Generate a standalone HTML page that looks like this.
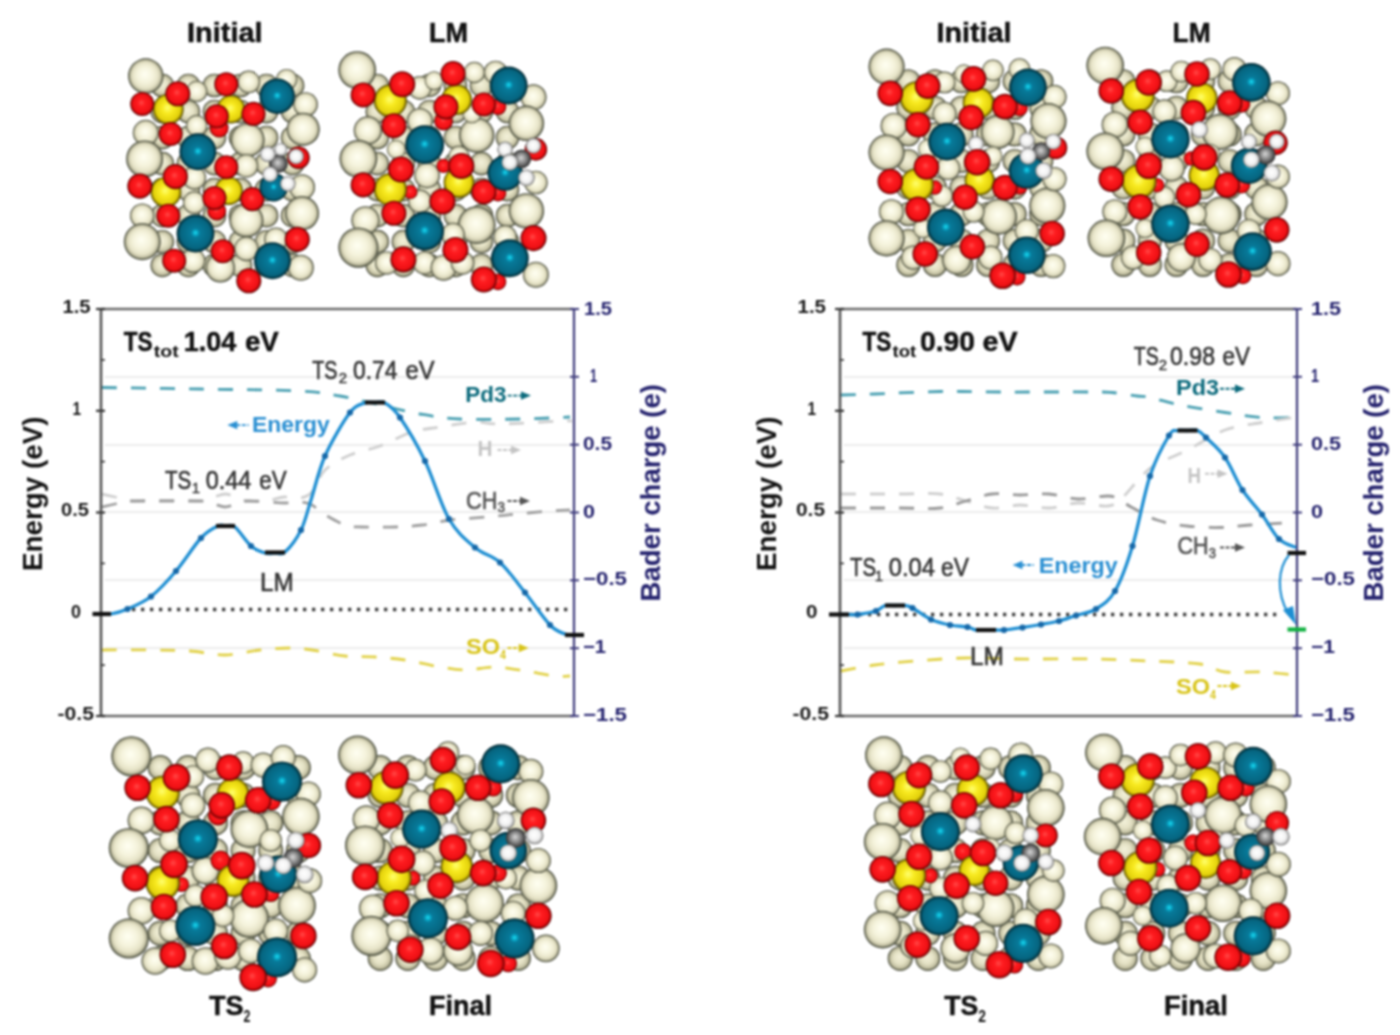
<!DOCTYPE html>
<html><head><meta charset="utf-8"><style>
html,body{margin:0;padding:0;background:#fff;width:1400px;height:1035px;overflow:hidden}
svg{display:block;filter:blur(0.8px)}
</style></head><body>
<svg width="1400" height="1035" viewBox="0 0 1400 1035" font-family='"Liberation Sans", sans-serif'>
<rect width="1400" height="1035" fill="#fff"/>
<line x1="105" y1="377" x2="570" y2="377" stroke="#e6e6e6" stroke-width="1.6"/>
<line x1="105" y1="445" x2="570" y2="445" stroke="#e6e6e6" stroke-width="1.6"/>
<line x1="105" y1="512" x2="570" y2="512" stroke="#e6e6e6" stroke-width="1.6"/>
<line x1="105" y1="580" x2="570" y2="580" stroke="#e6e6e6" stroke-width="1.6"/>
<line x1="105" y1="648" x2="570" y2="648" stroke="#e6e6e6" stroke-width="1.6"/>
<path d="M102.0,387.5 C118.3,387.8 167.0,388.4 200.0,389.0 C233.0,389.6 276.7,389.8 300.0,391.0 C323.3,392.2 326.7,393.7 340.0,396.0 C353.3,398.3 366.7,402.0 380.0,405.0 C393.3,408.0 406.7,411.7 420.0,414.0 C433.3,416.3 443.3,418.2 460.0,419.0 C476.7,419.8 501.7,419.3 520.0,419.0 C538.3,418.7 561.7,417.3 570.0,417.0" fill="none" stroke="#4aa0b2" stroke-width="2.8" stroke-dasharray="15 14" stroke-opacity="1" stroke-linecap="butt"/>
<path d="M102.0,494.0 C104.2,494.5 110.0,495.8 115.0,497.0 C120.0,498.2 117.8,500.3 132.0,501.0 C146.2,501.7 186.3,501.7 200.0,501.0 C213.7,500.3 209.8,498.2 214.0,497.0 C218.2,495.8 221.3,494.0 225.0,494.0 C228.7,494.0 232.2,495.8 236.0,497.0 C239.8,498.2 242.3,500.5 248.0,501.0 C253.7,501.5 264.0,500.7 270.0,500.0 C276.0,499.3 279.0,497.3 284.0,497.0 C289.0,496.7 295.3,498.8 300.0,498.0 C304.7,497.2 307.8,496.7 312.0,492.0 C316.2,487.3 318.7,476.2 325.0,470.0 C331.3,463.8 340.8,459.0 350.0,455.0 C359.2,451.0 369.7,449.8 380.0,446.0 C390.3,442.2 402.0,435.2 412.0,432.0 C422.0,428.8 429.5,428.7 440.0,427.0 C450.5,425.3 465.0,422.5 475.0,422.0 C485.0,421.5 485.5,424.2 500.0,424.0 C514.5,423.8 550.0,421.5 562.0,421.0 C574.0,420.5 570.3,421.0 572.0,421.0" fill="none" stroke="#cfcfcf" stroke-width="2.8" stroke-dasharray="15 14" stroke-opacity="1" stroke-linecap="butt"/>
<path d="M102.0,507.0 C104.2,506.5 110.0,505.0 115.0,504.0 C120.0,503.0 117.8,501.5 132.0,501.0 C146.2,500.5 186.3,500.5 200.0,501.0 C213.7,501.5 209.8,503.0 214.0,504.0 C218.2,505.0 221.3,507.0 225.0,507.0 C228.7,507.0 232.2,505.0 236.0,504.0 C239.8,503.0 240.0,501.2 248.0,501.0 C256.0,500.8 275.3,502.8 284.0,503.0 C292.7,503.2 295.3,501.7 300.0,502.0 C304.7,502.3 308.3,503.2 312.0,505.0 C315.7,506.8 316.5,509.7 322.0,513.0 C327.5,516.3 338.3,522.7 345.0,525.0 C351.7,527.3 353.7,526.7 362.0,527.0 C370.3,527.3 385.0,527.3 395.0,527.0 C405.0,526.7 412.8,526.2 422.0,525.0 C431.2,523.8 439.2,521.3 450.0,520.0 C460.8,518.7 475.8,518.0 487.0,517.0 C498.2,516.0 506.5,515.0 517.0,514.0 C527.5,513.0 541.2,511.7 550.0,511.0 C558.8,510.3 566.7,510.2 570.0,510.0" fill="none" stroke="#a0a0a0" stroke-width="2.8" stroke-dasharray="15 14" stroke-opacity="1" stroke-linecap="butt"/>
<path d="M102.0,650.0 C110.0,650.0 135.3,649.8 150.0,650.0 C164.7,650.2 177.5,650.2 190.0,651.0 C202.5,651.8 213.3,655.2 225.0,655.0 C236.7,654.8 249.2,651.2 260.0,650.0 C270.8,648.8 281.3,648.0 290.0,648.0 C298.7,648.0 302.8,648.7 312.0,650.0 C321.2,651.3 334.5,654.8 345.0,656.0 C355.5,657.2 365.0,656.3 375.0,657.0 C385.0,657.7 395.0,658.5 405.0,660.0 C415.0,661.5 425.0,664.3 435.0,666.0 C445.0,667.7 455.0,669.8 465.0,670.0 C475.0,670.2 485.0,666.8 495.0,667.0 C505.0,667.2 515.0,669.5 525.0,671.0 C535.0,672.5 547.5,675.2 555.0,676.0 C562.5,676.8 567.5,676.0 570.0,676.0" fill="none" stroke="#e2d24a" stroke-width="2.8" stroke-dasharray="15 14" stroke-opacity="1" stroke-linecap="butt"/>
<line x1="132" y1="609.5" x2="571" y2="609.5" stroke="#3a3a3a" stroke-width="3.3" stroke-dasharray="3.3 5.7"/>
<line x1="101" y1="309" x2="574" y2="309" stroke="#6a6a6a" stroke-width="2.4"/>
<line x1="101" y1="716" x2="574" y2="716" stroke="#6a6a6a" stroke-width="2.4"/>
<line x1="101" y1="308" x2="101" y2="717" stroke="#555" stroke-width="2.6"/>
<line x1="574" y1="308" x2="574" y2="717" stroke="#3d3a7a" stroke-width="2.2"/>
<line x1="96" y1="309.0" x2="105" y2="309.0" stroke="#333" stroke-width="2.2"/>
<line x1="101" y1="359.9" x2="105" y2="359.9" stroke="#333" stroke-width="1.6"/>
<line x1="96" y1="410.8" x2="105" y2="410.8" stroke="#333" stroke-width="2.2"/>
<line x1="101" y1="461.6" x2="105" y2="461.6" stroke="#333" stroke-width="1.6"/>
<line x1="96" y1="512.5" x2="105" y2="512.5" stroke="#333" stroke-width="2.2"/>
<line x1="101" y1="563.4" x2="105" y2="563.4" stroke="#333" stroke-width="1.6"/>
<line x1="96" y1="614.2" x2="105" y2="614.2" stroke="#333" stroke-width="2.2"/>
<line x1="101" y1="665.1" x2="105" y2="665.1" stroke="#333" stroke-width="1.6"/>
<line x1="96" y1="716.0" x2="105" y2="716.0" stroke="#333" stroke-width="2.2"/>
<line x1="570" y1="309.0" x2="579" y2="309.0" stroke="#3d3a7a" stroke-width="2"/>
<line x1="570" y1="376.8" x2="579" y2="376.8" stroke="#3d3a7a" stroke-width="2"/>
<line x1="570" y1="444.7" x2="579" y2="444.7" stroke="#3d3a7a" stroke-width="2"/>
<line x1="570" y1="512.5" x2="579" y2="512.5" stroke="#3d3a7a" stroke-width="2"/>
<line x1="570" y1="580.3" x2="579" y2="580.3" stroke="#3d3a7a" stroke-width="2"/>
<line x1="570" y1="648.2" x2="579" y2="648.2" stroke="#3d3a7a" stroke-width="2"/>
<line x1="570" y1="716.0" x2="579" y2="716.0" stroke="#3d3a7a" stroke-width="2"/>
<path d="M101.0,614.0 C102.7,614.0 106.6,614.8 111.0,614.0 C115.4,613.2 120.8,611.9 127.5,609.0 C134.2,606.1 142.9,602.8 151.0,596.5 C159.1,590.2 167.7,580.8 176.0,571.0 C184.3,561.2 194.0,545.5 201.0,538.0 C208.0,530.5 213.8,528.0 218.0,526.0 C222.2,524.0 223.2,525.8 226.0,526.0 C228.8,526.2 230.8,523.7 235.0,527.0 C239.2,530.3 246.0,541.7 251.0,546.0 C256.0,550.3 261.0,551.8 265.0,553.0 C269.0,554.2 271.7,553.2 275.0,553.0 C278.3,552.8 280.7,555.8 285.0,552.0 C289.3,548.2 296.7,538.7 301.0,530.0 C305.3,521.3 307.0,512.3 311.0,500.0 C315.0,487.7 318.5,470.6 325.0,456.0 C331.5,441.4 343.3,421.3 350.0,412.5 C356.7,403.7 360.8,404.7 365.0,403.0 C369.2,401.3 371.7,402.5 375.0,402.5 C378.3,402.5 380.8,400.5 385.0,403.0 C389.2,405.5 393.3,407.8 400.0,417.5 C406.7,427.2 416.8,444.1 425.0,461.0 C433.2,477.9 440.7,504.6 449.0,519.0 C457.3,533.4 466.5,540.2 475.0,547.5 C483.5,554.8 491.7,555.0 500.0,562.5 C508.3,570.0 516.7,582.1 525.0,592.5 C533.3,602.9 543.3,618.1 550.0,625.0 C556.7,631.9 560.8,632.3 565.0,634.0 C569.2,635.7 573.3,634.8 575.0,635.0" fill="none" stroke="#1e8ed2" stroke-width="3.3" stroke-opacity="1" stroke-linecap="butt"/>
<circle cx="127.5" cy="609" r="3.1" fill="#1668a8"/>
<circle cx="151" cy="596.5" r="3.1" fill="#1668a8"/>
<circle cx="176" cy="571" r="3.1" fill="#1668a8"/>
<circle cx="201" cy="538" r="3.1" fill="#1668a8"/>
<circle cx="251" cy="546" r="3.1" fill="#1668a8"/>
<circle cx="301" cy="530" r="3.1" fill="#1668a8"/>
<circle cx="325" cy="456" r="3.1" fill="#1668a8"/>
<circle cx="350" cy="412.5" r="3.1" fill="#1668a8"/>
<circle cx="400" cy="417.5" r="3.1" fill="#1668a8"/>
<circle cx="425" cy="461" r="3.1" fill="#1668a8"/>
<circle cx="449" cy="519" r="3.1" fill="#1668a8"/>
<circle cx="475" cy="547.5" r="3.1" fill="#1668a8"/>
<circle cx="500" cy="562.5" r="3.1" fill="#1668a8"/>
<circle cx="525" cy="592.5" r="3.1" fill="#1668a8"/>
<circle cx="550" cy="625" r="3.1" fill="#1668a8"/>
<line x1="92.5" y1="614" x2="111" y2="614" stroke="#111" stroke-width="4.2"/>
<line x1="216" y1="526" x2="235" y2="526" stroke="#111" stroke-width="4.2"/>
<line x1="265" y1="552.5" x2="285" y2="552.5" stroke="#111" stroke-width="4.2"/>
<line x1="365" y1="402.5" x2="385" y2="402.5" stroke="#111" stroke-width="4.2"/>
<line x1="565" y1="635" x2="584" y2="635" stroke="#111" stroke-width="4.2"/>
<line x1="844" y1="377" x2="1293" y2="377" stroke="#e6e6e6" stroke-width="1.6"/>
<line x1="844" y1="445" x2="1293" y2="445" stroke="#e6e6e6" stroke-width="1.6"/>
<line x1="844" y1="512" x2="1293" y2="512" stroke="#e6e6e6" stroke-width="1.6"/>
<line x1="844" y1="580" x2="1293" y2="580" stroke="#e6e6e6" stroke-width="1.6"/>
<line x1="844" y1="648" x2="1293" y2="648" stroke="#e6e6e6" stroke-width="1.6"/>
<path d="M841.0,395.0 C846.7,394.8 858.5,394.6 875.0,394.0 C891.5,393.4 919.2,391.8 940.0,391.5 C960.8,391.2 975.0,391.9 1000.0,392.0 C1025.0,392.1 1071.3,391.9 1090.0,392.0 C1108.7,392.1 1104.2,391.8 1112.0,392.5 C1119.8,393.2 1130.7,395.2 1137.0,396.0 C1143.3,396.8 1142.8,396.0 1150.0,397.5 C1157.2,399.0 1167.5,402.5 1180.0,405.0 C1192.5,407.5 1211.3,410.4 1225.0,412.5 C1238.7,414.6 1250.3,416.7 1262.0,417.5 C1273.7,418.3 1289.5,417.5 1295.0,417.5" fill="none" stroke="#4aa0b2" stroke-width="2.8" stroke-dasharray="15 14" stroke-opacity="1" stroke-linecap="butt"/>
<path d="M841.0,494.0 C850.8,494.0 883.5,494.0 900.0,494.0 C916.5,494.0 929.0,492.8 940.0,494.0 C951.0,495.2 957.3,498.7 966.0,501.0 C974.7,503.3 983.0,507.3 992.0,508.0 C1001.0,508.7 1010.5,505.0 1020.0,505.0 C1029.5,505.0 1039.3,508.3 1049.0,508.0 C1058.7,507.7 1068.2,503.3 1078.0,503.0 C1087.8,502.7 1100.7,506.8 1108.0,506.0 C1115.3,505.2 1116.7,502.7 1122.0,498.0 C1127.3,493.3 1134.5,483.5 1140.0,478.0 C1145.5,472.5 1147.1,469.7 1155.0,465.0 C1162.9,460.3 1175.8,455.8 1187.5,450.0 C1199.2,444.2 1212.6,434.6 1225.0,430.0 C1237.4,425.4 1250.5,424.6 1262.0,422.5 C1273.5,420.4 1288.7,418.3 1294.0,417.5" fill="none" stroke="#cfcfcf" stroke-width="2.8" stroke-dasharray="15 14" stroke-opacity="1" stroke-linecap="butt"/>
<path d="M841.0,508.0 C850.8,508.0 883.5,508.0 900.0,508.0 C916.5,508.0 929.0,509.2 940.0,508.0 C951.0,506.8 957.3,503.3 966.0,501.0 C974.7,498.7 983.0,495.0 992.0,494.0 C1001.0,493.0 1010.5,495.0 1020.0,495.0 C1029.5,495.0 1039.3,493.3 1049.0,494.0 C1058.7,494.7 1068.2,498.7 1078.0,499.0 C1087.8,499.3 1101.0,495.8 1108.0,496.0 C1115.0,496.2 1116.0,498.1 1120.0,500.0 C1124.0,501.9 1125.8,504.2 1132.0,507.5 C1138.2,510.8 1147.8,516.9 1157.0,520.0 C1166.2,523.1 1176.5,524.8 1187.0,526.0 C1197.5,527.2 1209.5,527.7 1220.0,527.5 C1230.5,527.3 1237.7,525.8 1250.0,525.0 C1262.3,524.2 1286.7,522.9 1294.0,522.5" fill="none" stroke="#999" stroke-width="2.8" stroke-dasharray="15 14" stroke-opacity="1" stroke-linecap="butt"/>
<path d="M841.0,671.0 C846.7,670.0 862.7,666.7 875.0,665.0 C887.3,663.3 900.0,662.2 915.0,661.0 C930.0,659.8 948.3,658.3 965.0,658.0 C981.7,657.7 994.2,658.8 1015.0,659.0 C1035.8,659.2 1067.5,658.7 1090.0,659.0 C1112.5,659.3 1131.7,660.2 1150.0,661.0 C1168.3,661.8 1187.5,662.2 1200.0,664.0 C1212.5,665.8 1214.7,670.7 1225.0,672.0 C1235.3,673.3 1250.3,671.5 1262.0,672.0 C1273.7,672.5 1289.5,674.5 1295.0,675.0" fill="none" stroke="#e2d24a" stroke-width="2.8" stroke-dasharray="15 14" stroke-opacity="1" stroke-linecap="butt"/>
<line x1="850" y1="614.5" x2="1277" y2="614.5" stroke="#3a3a3a" stroke-width="3.3" stroke-dasharray="3.3 5.7"/>
<line x1="840" y1="309" x2="1297" y2="309" stroke="#6a6a6a" stroke-width="2.4"/>
<line x1="840" y1="716" x2="1297" y2="716" stroke="#6a6a6a" stroke-width="2.4"/>
<line x1="840" y1="308" x2="840" y2="717" stroke="#555" stroke-width="2.6"/>
<line x1="1297" y1="308" x2="1297" y2="717" stroke="#3d3a7a" stroke-width="2.2"/>
<line x1="835" y1="309.0" x2="844" y2="309.0" stroke="#333" stroke-width="2.2"/>
<line x1="840" y1="359.9" x2="844" y2="359.9" stroke="#333" stroke-width="1.6"/>
<line x1="835" y1="410.8" x2="844" y2="410.8" stroke="#333" stroke-width="2.2"/>
<line x1="840" y1="461.6" x2="844" y2="461.6" stroke="#333" stroke-width="1.6"/>
<line x1="835" y1="512.5" x2="844" y2="512.5" stroke="#333" stroke-width="2.2"/>
<line x1="840" y1="563.4" x2="844" y2="563.4" stroke="#333" stroke-width="1.6"/>
<line x1="835" y1="614.2" x2="844" y2="614.2" stroke="#333" stroke-width="2.2"/>
<line x1="840" y1="665.1" x2="844" y2="665.1" stroke="#333" stroke-width="1.6"/>
<line x1="835" y1="716.0" x2="844" y2="716.0" stroke="#333" stroke-width="2.2"/>
<line x1="1293" y1="309.0" x2="1302" y2="309.0" stroke="#3d3a7a" stroke-width="2"/>
<line x1="1293" y1="376.8" x2="1302" y2="376.8" stroke="#3d3a7a" stroke-width="2"/>
<line x1="1293" y1="444.7" x2="1302" y2="444.7" stroke="#3d3a7a" stroke-width="2"/>
<line x1="1293" y1="512.5" x2="1302" y2="512.5" stroke="#3d3a7a" stroke-width="2"/>
<line x1="1293" y1="580.3" x2="1302" y2="580.3" stroke="#3d3a7a" stroke-width="2"/>
<line x1="1293" y1="648.2" x2="1302" y2="648.2" stroke="#3d3a7a" stroke-width="2"/>
<line x1="1293" y1="716.0" x2="1302" y2="716.0" stroke="#3d3a7a" stroke-width="2"/>
<path d="M840.0,614.5 C841.5,614.5 846.1,614.5 849.0,614.5 C851.9,614.5 853.0,615.1 857.5,614.5 C862.0,613.9 871.4,612.5 876.0,611.0 C880.6,609.5 881.8,606.4 885.0,605.5 C888.2,604.6 891.7,605.5 895.0,605.5 C898.3,605.5 902.1,605.1 905.0,605.5 C907.9,605.9 908.2,605.7 912.5,608.0 C916.8,610.3 924.8,616.7 931.0,619.5 C937.2,622.3 943.9,623.8 950.0,625.0 C956.1,626.2 963.2,626.2 967.5,627.0 C971.8,627.8 972.9,629.5 976.0,630.0 C979.1,630.5 982.7,630.0 986.0,630.0 C989.3,630.0 993.0,630.0 996.0,630.0 C999.0,630.0 999.6,630.4 1004.0,630.0 C1008.4,629.6 1016.3,628.4 1022.5,627.5 C1028.7,626.6 1034.9,625.6 1041.0,624.5 C1047.1,623.4 1053.2,622.5 1059.0,621.0 C1064.8,619.5 1069.8,617.5 1076.0,615.5 C1082.2,613.5 1089.5,613.1 1096.0,609.0 C1102.5,604.9 1108.9,601.5 1115.0,591.0 C1121.1,580.5 1126.7,565.2 1132.5,546.0 C1138.3,526.8 1143.9,494.4 1150.0,476.0 C1156.1,457.6 1164.4,443.1 1169.0,435.5 C1173.6,427.9 1174.4,431.3 1177.5,430.5 C1180.6,429.7 1184.2,430.5 1187.5,430.5 C1190.8,430.5 1194.4,429.3 1197.5,430.5 C1200.6,431.7 1201.4,433.0 1206.0,437.5 C1210.6,442.0 1218.9,448.8 1225.0,457.5 C1231.1,466.2 1236.3,480.5 1242.5,490.0 C1248.7,499.5 1255.9,506.3 1262.0,514.5 C1268.1,522.7 1273.3,533.5 1279.0,539.0 C1284.7,544.5 1293.2,546.1 1296.0,547.5" fill="none" stroke="#1e8ed2" stroke-width="3.3" stroke-opacity="1" stroke-linecap="butt"/>
<circle cx="857.5" cy="614.5" r="3.1" fill="#1668a8"/>
<circle cx="876" cy="611" r="3.1" fill="#1668a8"/>
<circle cx="912.5" cy="608" r="3.1" fill="#1668a8"/>
<circle cx="931" cy="619.5" r="3.1" fill="#1668a8"/>
<circle cx="950" cy="625" r="3.1" fill="#1668a8"/>
<circle cx="967.5" cy="627" r="3.1" fill="#1668a8"/>
<circle cx="1004" cy="630" r="3.1" fill="#1668a8"/>
<circle cx="1022.5" cy="627.5" r="3.1" fill="#1668a8"/>
<circle cx="1041" cy="624.5" r="3.1" fill="#1668a8"/>
<circle cx="1059" cy="621" r="3.1" fill="#1668a8"/>
<circle cx="1076" cy="615.5" r="3.1" fill="#1668a8"/>
<circle cx="1096" cy="609" r="3.1" fill="#1668a8"/>
<circle cx="1115" cy="591" r="3.1" fill="#1668a8"/>
<circle cx="1132.5" cy="546" r="3.1" fill="#1668a8"/>
<circle cx="1150" cy="476" r="3.1" fill="#1668a8"/>
<circle cx="1169" cy="435.5" r="3.1" fill="#1668a8"/>
<circle cx="1206" cy="437.5" r="3.1" fill="#1668a8"/>
<circle cx="1225" cy="457.5" r="3.1" fill="#1668a8"/>
<circle cx="1242.5" cy="490" r="3.1" fill="#1668a8"/>
<circle cx="1262" cy="514.5" r="3.1" fill="#1668a8"/>
<circle cx="1279" cy="539" r="3.1" fill="#1668a8"/>
<line x1="829" y1="614.5" x2="849" y2="614.5" stroke="#111" stroke-width="4.2"/>
<line x1="885" y1="605.5" x2="905" y2="605.5" stroke="#111" stroke-width="4.2"/>
<line x1="976" y1="630" x2="996" y2="630" stroke="#111" stroke-width="4.2"/>
<line x1="1177.5" y1="430.5" x2="1197.5" y2="430.5" stroke="#111" stroke-width="4.2"/>
<line x1="1287.5" y1="553" x2="1306" y2="553" stroke="#111" stroke-width="4.2"/>
<line x1="1287.5" y1="629.5" x2="1306" y2="629.5" stroke="#10b040" stroke-width="4.2"/>
<path d="M1289,555 C1278,568 1276,592 1288,613" fill="none" stroke="#1e8ed2" stroke-width="2.2"/>
<path d="M1283,610 L1296,625 L1293,606 Z" fill="#1e8ed2"/>
<text x="62.4" y="313.0" font-size="19" font-weight="bold" fill="#1a1a1a" textLength="28.3" lengthAdjust="spacingAndGlyphs">1.5</text>
<text x="72.5" y="414.5" font-size="19" font-weight="bold" fill="#1a1a1a" textLength="8.5" lengthAdjust="spacingAndGlyphs">1</text>
<text x="61.0" y="516.0" font-size="19" font-weight="bold" fill="#1a1a1a" textLength="28.0" lengthAdjust="spacingAndGlyphs">0.5</text>
<text x="71.0" y="618.0" font-size="19" font-weight="bold" fill="#1a1a1a" textLength="10.0" lengthAdjust="spacingAndGlyphs">0</text>
<text x="57.5" y="720.0" font-size="19" font-weight="bold" fill="#1a1a1a" textLength="36.5" lengthAdjust="spacingAndGlyphs">-0.5</text>
<text x="584.0" y="315.0" font-size="19" font-weight="bold" fill="#25236e" textLength="28.0" lengthAdjust="spacingAndGlyphs">1.5</text>
<text x="590.0" y="382.0" font-size="19" font-weight="bold" fill="#25236e" textLength="7.0" lengthAdjust="spacingAndGlyphs">1</text>
<text x="583.0" y="450.0" font-size="19" font-weight="bold" fill="#25236e" textLength="29.0" lengthAdjust="spacingAndGlyphs">0.5</text>
<text x="583.0" y="518.0" font-size="19" font-weight="bold" fill="#25236e" textLength="12.0" lengthAdjust="spacingAndGlyphs">0</text>
<text x="583.0" y="585.0" font-size="19" font-weight="bold" fill="#25236e" textLength="44.0" lengthAdjust="spacingAndGlyphs">−0.5</text>
<text x="583.0" y="653.0" font-size="19" font-weight="bold" fill="#25236e" textLength="23.0" lengthAdjust="spacingAndGlyphs">−1</text>
<text x="583.0" y="721.0" font-size="19" font-weight="bold" fill="#25236e" textLength="44.0" lengthAdjust="spacingAndGlyphs">−1.5</text>
<text x="797.5" y="313.0" font-size="19" font-weight="bold" fill="#1a1a1a" textLength="28.5" lengthAdjust="spacingAndGlyphs">1.5</text>
<text x="807.5" y="414.5" font-size="19" font-weight="bold" fill="#1a1a1a" textLength="8.5" lengthAdjust="spacingAndGlyphs">1</text>
<text x="796.0" y="516.0" font-size="19" font-weight="bold" fill="#1a1a1a" textLength="29.0" lengthAdjust="spacingAndGlyphs">0.5</text>
<text x="806.0" y="618.0" font-size="19" font-weight="bold" fill="#1a1a1a" textLength="11.5" lengthAdjust="spacingAndGlyphs">0</text>
<text x="792.5" y="720.0" font-size="19" font-weight="bold" fill="#1a1a1a" textLength="36.5" lengthAdjust="spacingAndGlyphs">-0.5</text>
<text x="1311.0" y="315.0" font-size="19" font-weight="bold" fill="#25236e" textLength="30.0" lengthAdjust="spacingAndGlyphs">1.5</text>
<text x="1311.0" y="382.0" font-size="19" font-weight="bold" fill="#25236e" textLength="8.0" lengthAdjust="spacingAndGlyphs">1</text>
<text x="1311.0" y="450.0" font-size="19" font-weight="bold" fill="#25236e" textLength="30.0" lengthAdjust="spacingAndGlyphs">0.5</text>
<text x="1311.0" y="518.0" font-size="19" font-weight="bold" fill="#25236e" textLength="12.0" lengthAdjust="spacingAndGlyphs">0</text>
<text x="1311.0" y="585.0" font-size="19" font-weight="bold" fill="#25236e" textLength="44.0" lengthAdjust="spacingAndGlyphs">−0.5</text>
<text x="1311.0" y="653.0" font-size="19" font-weight="bold" fill="#25236e" textLength="24.0" lengthAdjust="spacingAndGlyphs">−1</text>
<text x="1311.0" y="721.0" font-size="19" font-weight="bold" fill="#25236e" textLength="44.0" lengthAdjust="spacingAndGlyphs">−1.5</text>
<text transform="translate(41.5,571.0) rotate(-90)" x="0" y="0" font-size="27" font-weight="bold" fill="#111" textLength="154.5" lengthAdjust="spacingAndGlyphs">Energy (eV)</text>
<text transform="translate(776.0,571.0) rotate(-90)" x="0" y="0" font-size="27" font-weight="bold" fill="#111" textLength="154.5" lengthAdjust="spacingAndGlyphs">Energy (eV)</text>
<text transform="translate(659.5,601.5) rotate(-90)" x="0" y="0" font-size="27" font-weight="bold" fill="#25236e" textLength="217.5" lengthAdjust="spacingAndGlyphs">Bader charge (e)</text>
<text transform="translate(1383.0,601.5) rotate(-90)" x="0" y="0" font-size="27" font-weight="bold" fill="#25236e" textLength="217.5" lengthAdjust="spacingAndGlyphs">Bader charge (e)</text>
<text x="123.8" y="351.0" font-size="28" font-weight="bold" fill="#111" textLength="28.8" lengthAdjust="spacingAndGlyphs" stroke="#111" stroke-width="0.5">TS</text>
<text x="153.8" y="356.5" font-size="17" font-weight="bold" fill="#111" textLength="25.0" lengthAdjust="spacingAndGlyphs">tot</text>
<text x="183.8" y="351.0" font-size="28" font-weight="bold" fill="#111" textLength="52.5" lengthAdjust="spacingAndGlyphs" stroke="#111" stroke-width="0.5">1.04</text>
<text x="245.0" y="351.0" font-size="28" font-weight="bold" fill="#111" textLength="33.8" lengthAdjust="spacingAndGlyphs" stroke="#111" stroke-width="0.5">eV</text>
<text x="312.3" y="378.9" font-size="26" font-weight="normal" fill="#333" textLength="25.2" lengthAdjust="spacingAndGlyphs" stroke="#333" stroke-width="0.6">TS</text>
<text x="342.8" y="383.2" font-size="15" font-weight="normal" fill="#333" text-anchor="middle" stroke="#333" stroke-width="0.4">2</text>
<text x="353.0" y="378.9" font-size="26" font-weight="normal" fill="#333" textLength="44.5" lengthAdjust="spacingAndGlyphs" stroke="#333" stroke-width="0.6">0.74</text>
<text x="405.5" y="378.9" font-size="26" font-weight="normal" fill="#333" textLength="29.0" lengthAdjust="spacingAndGlyphs" stroke="#333" stroke-width="0.6">eV</text>
<text x="165.0" y="488.8" font-size="26" font-weight="normal" fill="#333" textLength="26.3" lengthAdjust="spacingAndGlyphs" stroke="#333" stroke-width="0.6">TS</text>
<text x="195.8" y="492.5" font-size="15" font-weight="normal" fill="#333" text-anchor="middle" stroke="#333" stroke-width="0.4">1</text>
<text x="205.7" y="488.8" font-size="26" font-weight="normal" fill="#333" textLength="45.6" lengthAdjust="spacingAndGlyphs" stroke="#333" stroke-width="0.6">0.44</text>
<text x="259.3" y="488.8" font-size="26" font-weight="normal" fill="#333" textLength="27.3" lengthAdjust="spacingAndGlyphs" stroke="#333" stroke-width="0.6">eV</text>
<text x="260.0" y="591.2" font-size="26" font-weight="normal" fill="#333" textLength="33.8" lengthAdjust="spacingAndGlyphs" stroke="#333" stroke-width="0.6">LM</text>
<text x="862.5" y="351.0" font-size="28" font-weight="bold" fill="#111" textLength="28.8" lengthAdjust="spacingAndGlyphs" stroke="#111" stroke-width="0.5">TS</text>
<text x="892.5" y="356.5" font-size="17" font-weight="bold" fill="#111" textLength="23.8" lengthAdjust="spacingAndGlyphs">tot</text>
<text x="920.0" y="351.0" font-size="28" font-weight="bold" fill="#111" textLength="55.0" lengthAdjust="spacingAndGlyphs" stroke="#111" stroke-width="0.5">0.90</text>
<text x="982.5" y="351.0" font-size="28" font-weight="bold" fill="#111" textLength="35.0" lengthAdjust="spacingAndGlyphs" stroke="#111" stroke-width="0.5">eV</text>
<text x="1133.8" y="365.0" font-size="26" font-weight="normal" fill="#333" textLength="25.0" lengthAdjust="spacingAndGlyphs" stroke="#333" stroke-width="0.6">TS</text>
<text x="1163.0" y="369.5" font-size="15" font-weight="normal" fill="#333" text-anchor="middle" stroke="#333" stroke-width="0.4">2</text>
<text x="1170.0" y="365.0" font-size="26" font-weight="normal" fill="#333" textLength="45.0" lengthAdjust="spacingAndGlyphs" stroke="#333" stroke-width="0.6">0.98</text>
<text x="1222.5" y="365.0" font-size="26" font-weight="normal" fill="#333" textLength="27.5" lengthAdjust="spacingAndGlyphs" stroke="#333" stroke-width="0.6">eV</text>
<text x="850.0" y="576.0" font-size="26" font-weight="normal" fill="#333" textLength="26.0" lengthAdjust="spacingAndGlyphs" stroke="#333" stroke-width="0.6">TS</text>
<text x="879.0" y="580.5" font-size="15" font-weight="normal" fill="#333" text-anchor="middle" stroke="#333" stroke-width="0.4">1</text>
<text x="888.8" y="576.0" font-size="26" font-weight="normal" fill="#333" textLength="46.2" lengthAdjust="spacingAndGlyphs" stroke="#333" stroke-width="0.6">0.04</text>
<text x="941.0" y="576.0" font-size="26" font-weight="normal" fill="#333" textLength="27.8" lengthAdjust="spacingAndGlyphs" stroke="#333" stroke-width="0.6">eV</text>
<text x="970.0" y="665.0" font-size="26" font-weight="normal" fill="#333" textLength="34.0" lengthAdjust="spacingAndGlyphs" stroke="#333" stroke-width="0.6">LM</text>
<text x="465.3" y="402.3" font-size="22" font-weight="bold" fill="#0b6a7c" textLength="41.1" lengthAdjust="spacingAndGlyphs">Pd3</text>
<line x1="507.7" y1="395.6" x2="523" y2="395.6" stroke="#0b6a7c" stroke-width="1.8" stroke-dasharray="4 1.5"/>
<path d="M521,391.40000000000003 L531,395.6 L521,399.8 Z" fill="#0b6a7c"/>
<text x="477.5" y="456.0" font-size="22" font-weight="bold" fill="#c4c4c4" textLength="15.0" lengthAdjust="spacingAndGlyphs">H</text>
<line x1="497.5" y1="450" x2="513" y2="450" stroke="#c4c4c4" stroke-width="1.8" stroke-dasharray="4 1.5"/>
<path d="M511,445.8 L521,450 L511,454.2 Z" fill="#c4c4c4"/>
<text x="466.0" y="508.8" font-size="23" font-weight="normal" fill="#555" textLength="31.5" lengthAdjust="spacingAndGlyphs" stroke="#555" stroke-width="0.6">CH</text>
<text x="497.5" y="512.0" font-size="14" font-weight="normal" fill="#555" textLength="7.5" lengthAdjust="spacingAndGlyphs" stroke="#555" stroke-width="0.6">3</text>
<line x1="507.5" y1="501" x2="522" y2="501" stroke="#555" stroke-width="1.8" stroke-dasharray="4 1.5"/>
<path d="M520,496.8 L530,501 L520,505.2 Z" fill="#555"/>
<text x="466.0" y="653.8" font-size="22" font-weight="bold" fill="#d8c418" textLength="34.0" lengthAdjust="spacingAndGlyphs">SO</text>
<text x="500.0" y="658.5" font-size="13" font-weight="bold" fill="#d8c418" textLength="6.0" lengthAdjust="spacingAndGlyphs">4</text>
<line x1="507.5" y1="648" x2="520.75" y2="648" stroke="#d8c418" stroke-width="1.8" stroke-dasharray="4 1.5"/>
<path d="M518.75,643.8 L528.75,648 L518.75,652.2 Z" fill="#d8c418"/>
<text x="1176.0" y="395.0" font-size="22" font-weight="bold" fill="#0b6a7c" textLength="43.0" lengthAdjust="spacingAndGlyphs">Pd3</text>
<line x1="1220" y1="388.75" x2="1237" y2="388.75" stroke="#0b6a7c" stroke-width="1.8" stroke-dasharray="4 1.5"/>
<path d="M1235,384.55 L1245,388.75 L1235,392.95 Z" fill="#0b6a7c"/>
<text x="1187.5" y="482.5" font-size="22" font-weight="bold" fill="#c4c4c4" textLength="13.5" lengthAdjust="spacingAndGlyphs">H</text>
<line x1="1205" y1="473.75" x2="1219.5" y2="473.75" stroke="#c4c4c4" stroke-width="1.8" stroke-dasharray="4 1.5"/>
<path d="M1217.5,469.55 L1227.5,473.75 L1217.5,477.95 Z" fill="#c4c4c4"/>
<text x="1177.5" y="553.8" font-size="23" font-weight="normal" fill="#555" textLength="31.2" lengthAdjust="spacingAndGlyphs" stroke="#555" stroke-width="0.6">CH</text>
<text x="1208.8" y="557.5" font-size="14" font-weight="normal" fill="#555" textLength="7.2" lengthAdjust="spacingAndGlyphs" stroke="#555" stroke-width="0.6">3</text>
<line x1="1220" y1="547.5" x2="1237" y2="547.5" stroke="#555" stroke-width="1.8" stroke-dasharray="4 1.5"/>
<path d="M1235,543.3 L1245,547.5 L1235,551.7 Z" fill="#555"/>
<text x="1176.0" y="693.8" font-size="22" font-weight="bold" fill="#d8c418" textLength="34.0" lengthAdjust="spacingAndGlyphs">SO</text>
<text x="1210.0" y="698.5" font-size="13" font-weight="bold" fill="#d8c418" textLength="6.0" lengthAdjust="spacingAndGlyphs">4</text>
<line x1="1217.5" y1="686" x2="1233" y2="686" stroke="#d8c418" stroke-width="1.8" stroke-dasharray="4 1.5"/>
<path d="M1231,681.8 L1241,686 L1231,690.2 Z" fill="#d8c418"/>
<path d="M227.3,425.1 L237.3,420.90000000000003 L237.3,429.3 Z" fill="#2a8fd2"/>
<line x1="236.3" y1="425.1" x2="248.7" y2="425.1" stroke="#2a8fd2" stroke-width="1.8" stroke-dasharray="4 1.5"/>
<text x="252.1" y="431.6" font-size="22" font-weight="bold" fill="#2a8fd2" textLength="77.6" lengthAdjust="spacingAndGlyphs">Energy</text>
<path d="M1012.5,565 L1022.5,560.8 L1022.5,569.2 Z" fill="#2a8fd2"/>
<line x1="1021.5" y1="565" x2="1033.75" y2="565" stroke="#2a8fd2" stroke-width="1.8" stroke-dasharray="4 1.5"/>
<text x="1038.8" y="572.5" font-size="22" font-weight="bold" fill="#2a8fd2" textLength="78.8" lengthAdjust="spacingAndGlyphs">Energy</text>
<text x="187.0" y="42.0" font-size="28" font-weight="bold" fill="#111" textLength="75.6" lengthAdjust="spacingAndGlyphs" stroke="#111" stroke-width="0.5">Initial</text>
<text x="429.0" y="42.0" font-size="28" font-weight="bold" fill="#111" textLength="39.0" lengthAdjust="spacingAndGlyphs" stroke="#111" stroke-width="0.5">LM</text>
<text x="936.5" y="42.0" font-size="28" font-weight="bold" fill="#111" textLength="74.9" lengthAdjust="spacingAndGlyphs" stroke="#111" stroke-width="0.5">Initial</text>
<text x="1172.6" y="42.0" font-size="28" font-weight="bold" fill="#111" textLength="38.1" lengthAdjust="spacingAndGlyphs" stroke="#111" stroke-width="0.5">LM</text>
<text x="209.0" y="1015.0" font-size="28" font-weight="bold" fill="#111" textLength="34.6" lengthAdjust="spacingAndGlyphs" stroke="#111" stroke-width="0.5">TS</text>
<text x="243.5" y="1022.0" font-size="17" font-weight="bold" fill="#111" textLength="6.9" lengthAdjust="spacingAndGlyphs">2</text>
<text x="429.0" y="1015.0" font-size="28" font-weight="bold" fill="#111" textLength="63.0" lengthAdjust="spacingAndGlyphs" stroke="#111" stroke-width="0.5">Final</text>
<text x="944.3" y="1015.0" font-size="28" font-weight="bold" fill="#111" textLength="34.0" lengthAdjust="spacingAndGlyphs" stroke="#111" stroke-width="0.5">TS</text>
<text x="978.3" y="1022.0" font-size="17" font-weight="bold" fill="#111" textLength="7.7" lengthAdjust="spacingAndGlyphs">2</text>
<text x="1164.0" y="1015.0" font-size="28" font-weight="bold" fill="#111" textLength="64.0" lengthAdjust="spacingAndGlyphs" stroke="#111" stroke-width="0.5">Final</text>
<defs>
<radialGradient id="gc" cx="50%" cy="50%" r="50%" fx="47%" fy="44%">
<stop offset="0" stop-color="#fffff2"/><stop offset="0.45" stop-color="#f5f3dc"/><stop offset="0.72" stop-color="#e6e3c7"/><stop offset="0.86" stop-color="#c3c0a4"/><stop offset="0.95" stop-color="#6c6e5a"/><stop offset="1" stop-color="#2e3326"/></radialGradient>
<radialGradient id="gc2" cx="50%" cy="50%" r="50%" fx="47%" fy="44%">
<stop offset="0" stop-color="#f3f1da"/><stop offset="0.5" stop-color="#e4e1c4"/><stop offset="0.8" stop-color="#c2bfa1"/><stop offset="0.94" stop-color="#6a6b56"/><stop offset="1" stop-color="#2e3326"/></radialGradient>
<radialGradient id="gr" cx="50%" cy="50%" r="50%" fx="46%" fy="44%">
<stop offset="0" stop-color="#ff4a48"/><stop offset="0.3" stop-color="#ff1c20"/><stop offset="0.78" stop-color="#ee1014"/><stop offset="0.92" stop-color="#a00406"/><stop offset="1" stop-color="#3a0000"/></radialGradient>
<radialGradient id="gy" cx="50%" cy="50%" r="50%" fx="47%" fy="45%">
<stop offset="0" stop-color="#ffff70"/><stop offset="0.35" stop-color="#f8ea20"/><stop offset="0.8" stop-color="#e2d00a"/><stop offset="0.93" stop-color="#8c7c00"/><stop offset="1" stop-color="#3a3200"/></radialGradient>
<radialGradient id="gt" cx="50%" cy="50%" r="50%" fx="50%" fy="48%">
<stop offset="0" stop-color="#22e4f4"/><stop offset="0.1" stop-color="#0ab0d0"/><stop offset="0.24" stop-color="#077a9a"/><stop offset="0.8" stop-color="#066580"/><stop offset="0.93" stop-color="#034050"/><stop offset="1" stop-color="#011c24"/></radialGradient>
<radialGradient id="gw" cx="50%" cy="50%" r="50%" fx="46%" fy="44%">
<stop offset="0" stop-color="#ffffff"/><stop offset="0.6" stop-color="#f2f2f2"/><stop offset="0.88" stop-color="#b8b8b8"/><stop offset="1" stop-color="#505050"/></radialGradient>
<radialGradient id="gg" cx="50%" cy="50%" r="50%" fx="46%" fy="44%">
<stop offset="0" stop-color="#d8d8d8"/><stop offset="0.5" stop-color="#8a8a8a"/><stop offset="1" stop-color="#303030"/></radialGradient>
</defs>
<g transform="translate(115,50) scale(0.23674)">
<circle cx="200" cy="150" r="50" fill="url(#gc2)"/>
<circle cx="310" cy="150" r="50" fill="url(#gc2)"/>
<circle cx="420" cy="150" r="50" fill="url(#gc2)"/>
<circle cx="530" cy="150" r="50" fill="url(#gc2)"/>
<circle cx="640" cy="150" r="50" fill="url(#gc2)"/>
<circle cx="750" cy="150" r="50" fill="url(#gc2)"/>
<circle cx="200" cy="260" r="50" fill="url(#gc2)"/>
<circle cx="310" cy="260" r="50" fill="url(#gc2)"/>
<circle cx="420" cy="260" r="50" fill="url(#gc2)"/>
<circle cx="530" cy="260" r="50" fill="url(#gc2)"/>
<circle cx="640" cy="260" r="50" fill="url(#gc2)"/>
<circle cx="750" cy="260" r="50" fill="url(#gc2)"/>
<circle cx="200" cy="370" r="50" fill="url(#gc2)"/>
<circle cx="310" cy="370" r="50" fill="url(#gc2)"/>
<circle cx="420" cy="370" r="50" fill="url(#gc2)"/>
<circle cx="530" cy="370" r="50" fill="url(#gc2)"/>
<circle cx="640" cy="370" r="50" fill="url(#gc2)"/>
<circle cx="750" cy="370" r="50" fill="url(#gc2)"/>
<circle cx="200" cy="480" r="50" fill="url(#gc2)"/>
<circle cx="310" cy="480" r="50" fill="url(#gc2)"/>
<circle cx="420" cy="480" r="50" fill="url(#gc2)"/>
<circle cx="530" cy="480" r="50" fill="url(#gc2)"/>
<circle cx="640" cy="480" r="50" fill="url(#gc2)"/>
<circle cx="750" cy="480" r="50" fill="url(#gc2)"/>
<circle cx="200" cy="590" r="50" fill="url(#gc2)"/>
<circle cx="310" cy="590" r="50" fill="url(#gc2)"/>
<circle cx="420" cy="590" r="50" fill="url(#gc2)"/>
<circle cx="530" cy="590" r="50" fill="url(#gc2)"/>
<circle cx="640" cy="590" r="50" fill="url(#gc2)"/>
<circle cx="750" cy="590" r="50" fill="url(#gc2)"/>
<circle cx="200" cy="700" r="50" fill="url(#gc2)"/>
<circle cx="310" cy="700" r="50" fill="url(#gc2)"/>
<circle cx="420" cy="700" r="50" fill="url(#gc2)"/>
<circle cx="530" cy="700" r="50" fill="url(#gc2)"/>
<circle cx="640" cy="700" r="50" fill="url(#gc2)"/>
<circle cx="750" cy="700" r="50" fill="url(#gc2)"/>
<circle cx="200" cy="810" r="50" fill="url(#gc2)"/>
<circle cx="310" cy="810" r="50" fill="url(#gc2)"/>
<circle cx="420" cy="810" r="50" fill="url(#gc2)"/>
<circle cx="530" cy="810" r="50" fill="url(#gc2)"/>
<circle cx="640" cy="810" r="50" fill="url(#gc2)"/>
<circle cx="750" cy="810" r="50" fill="url(#gc2)"/>
<circle cx="200" cy="910" r="50" fill="url(#gc2)"/>
<circle cx="310" cy="910" r="50" fill="url(#gc2)"/>
<circle cx="420" cy="910" r="50" fill="url(#gc2)"/>
<circle cx="530" cy="910" r="50" fill="url(#gc2)"/>
<circle cx="640" cy="910" r="50" fill="url(#gc2)"/>
<circle cx="750" cy="910" r="50" fill="url(#gc2)"/>
<circle cx="130" cy="110" r="75" fill="url(#gc)"/>
<circle cx="345" cy="175" r="45" fill="url(#gc)"/>
<circle cx="565" cy="135" r="48" fill="url(#gc)"/>
<circle cx="725" cy="125" r="45" fill="url(#gc)"/>
<circle cx="805" cy="230" r="52" fill="url(#gc)"/>
<circle cx="795" cy="335" r="70" fill="url(#gc)"/>
<circle cx="130" cy="350" r="55" fill="url(#gc)"/>
<circle cx="345" cy="320" r="45" fill="url(#gc)"/>
<circle cx="125" cy="460" r="78" fill="url(#gc)"/>
<circle cx="560" cy="380" r="72" fill="url(#gc)"/>
<circle cx="555" cy="490" r="50" fill="url(#gc)"/>
<circle cx="335" cy="540" r="50" fill="url(#gc)"/>
<circle cx="790" cy="580" r="55" fill="url(#gc)"/>
<circle cx="115" cy="700" r="52" fill="url(#gc)"/>
<circle cx="335" cy="645" r="48" fill="url(#gc)"/>
<circle cx="790" cy="690" r="72" fill="url(#gc)"/>
<circle cx="115" cy="810" r="78" fill="url(#gc)"/>
<circle cx="555" cy="720" r="72" fill="url(#gc)"/>
<circle cx="555" cy="840" r="52" fill="url(#gc)"/>
<circle cx="680" cy="800" r="50" fill="url(#gc)"/>
<circle cx="330" cy="890" r="52" fill="url(#gc)"/>
<circle cx="445" cy="920" r="62" fill="url(#gc)"/>
<circle cx="785" cy="920" r="55" fill="url(#gc)"/>
<circle cx="440" cy="330" r="40" fill="url(#gr)"/>
<circle cx="430" cy="680" r="40" fill="url(#gr)"/>
<circle cx="225" cy="250" r="65" fill="url(#gy)"/>
<circle cx="490" cy="250" r="60" fill="url(#gy)"/>
<circle cx="215" cy="600" r="65" fill="url(#gy)"/>
<circle cx="480" cy="595" r="60" fill="url(#gy)"/>
<circle cx="115" cy="228" r="50.88" fill="url(#gr)"/>
<circle cx="265" cy="185" r="53" fill="url(#gr)"/>
<circle cx="235" cy="355" r="50.88" fill="url(#gr)"/>
<circle cx="470" cy="145" r="50.88" fill="url(#gr)"/>
<circle cx="430" cy="280" r="50.88" fill="url(#gr)"/>
<circle cx="585" cy="270" r="50.88" fill="url(#gr)"/>
<circle cx="685" cy="195" r="75" fill="url(#gt)"/>
<circle cx="350" cy="430" r="78" fill="url(#gt)"/>
<circle cx="470" cy="495" r="50.88" fill="url(#gr)"/>
<circle cx="255" cy="535" r="53" fill="url(#gr)"/>
<circle cx="105" cy="575" r="53" fill="url(#gr)"/>
<circle cx="225" cy="700" r="50.88" fill="url(#gr)"/>
<circle cx="420" cy="625" r="50.88" fill="url(#gr)"/>
<circle cx="580" cy="630" r="50.88" fill="url(#gr)"/>
<circle cx="670" cy="580" r="60" fill="url(#gt)"/>
<circle cx="775" cy="455" r="47.7" fill="url(#gr)"/>
<circle cx="690" cy="480" r="40" fill="url(#gg)"/>
<circle cx="645" cy="440" r="33" fill="url(#gw)"/>
<circle cx="700" cy="420" r="27.5" fill="url(#gw)"/>
<circle cx="765" cy="450" r="33" fill="url(#gw)"/>
<circle cx="655" cy="525" r="33" fill="url(#gw)"/>
<circle cx="730" cy="565" r="33" fill="url(#gw)"/>
<circle cx="340" cy="775" r="80" fill="url(#gt)"/>
<circle cx="665" cy="890" r="78" fill="url(#gt)"/>
<circle cx="455" cy="850" r="50.88" fill="url(#gr)"/>
<circle cx="250" cy="890" r="50.88" fill="url(#gr)"/>
<circle cx="770" cy="800" r="53" fill="url(#gr)"/>
<circle cx="565" cy="975" r="53" fill="url(#gr)"/>
</g>
<g transform="translate(330,50) scale(0.23663)">
<circle cx="200" cy="150" r="50" fill="url(#gc2)"/>
<circle cx="310" cy="150" r="50" fill="url(#gc2)"/>
<circle cx="420" cy="150" r="50" fill="url(#gc2)"/>
<circle cx="530" cy="150" r="50" fill="url(#gc2)"/>
<circle cx="640" cy="150" r="50" fill="url(#gc2)"/>
<circle cx="750" cy="150" r="50" fill="url(#gc2)"/>
<circle cx="200" cy="260" r="50" fill="url(#gc2)"/>
<circle cx="310" cy="260" r="50" fill="url(#gc2)"/>
<circle cx="420" cy="260" r="50" fill="url(#gc2)"/>
<circle cx="530" cy="260" r="50" fill="url(#gc2)"/>
<circle cx="640" cy="260" r="50" fill="url(#gc2)"/>
<circle cx="750" cy="260" r="50" fill="url(#gc2)"/>
<circle cx="200" cy="370" r="50" fill="url(#gc2)"/>
<circle cx="310" cy="370" r="50" fill="url(#gc2)"/>
<circle cx="420" cy="370" r="50" fill="url(#gc2)"/>
<circle cx="530" cy="370" r="50" fill="url(#gc2)"/>
<circle cx="640" cy="370" r="50" fill="url(#gc2)"/>
<circle cx="750" cy="370" r="50" fill="url(#gc2)"/>
<circle cx="200" cy="480" r="50" fill="url(#gc2)"/>
<circle cx="310" cy="480" r="50" fill="url(#gc2)"/>
<circle cx="420" cy="480" r="50" fill="url(#gc2)"/>
<circle cx="530" cy="480" r="50" fill="url(#gc2)"/>
<circle cx="640" cy="480" r="50" fill="url(#gc2)"/>
<circle cx="750" cy="480" r="50" fill="url(#gc2)"/>
<circle cx="200" cy="590" r="50" fill="url(#gc2)"/>
<circle cx="310" cy="590" r="50" fill="url(#gc2)"/>
<circle cx="420" cy="590" r="50" fill="url(#gc2)"/>
<circle cx="530" cy="590" r="50" fill="url(#gc2)"/>
<circle cx="640" cy="590" r="50" fill="url(#gc2)"/>
<circle cx="750" cy="590" r="50" fill="url(#gc2)"/>
<circle cx="200" cy="700" r="50" fill="url(#gc2)"/>
<circle cx="310" cy="700" r="50" fill="url(#gc2)"/>
<circle cx="420" cy="700" r="50" fill="url(#gc2)"/>
<circle cx="530" cy="700" r="50" fill="url(#gc2)"/>
<circle cx="640" cy="700" r="50" fill="url(#gc2)"/>
<circle cx="750" cy="700" r="50" fill="url(#gc2)"/>
<circle cx="200" cy="810" r="50" fill="url(#gc2)"/>
<circle cx="310" cy="810" r="50" fill="url(#gc2)"/>
<circle cx="420" cy="810" r="50" fill="url(#gc2)"/>
<circle cx="530" cy="810" r="50" fill="url(#gc2)"/>
<circle cx="640" cy="810" r="50" fill="url(#gc2)"/>
<circle cx="750" cy="810" r="50" fill="url(#gc2)"/>
<circle cx="200" cy="910" r="50" fill="url(#gc2)"/>
<circle cx="310" cy="910" r="50" fill="url(#gc2)"/>
<circle cx="420" cy="910" r="50" fill="url(#gc2)"/>
<circle cx="530" cy="910" r="50" fill="url(#gc2)"/>
<circle cx="640" cy="910" r="50" fill="url(#gc2)"/>
<circle cx="750" cy="910" r="50" fill="url(#gc2)"/>
<circle cx="115" cy="85" r="80" fill="url(#gc)"/>
<circle cx="380" cy="160" r="50" fill="url(#gc)"/>
<circle cx="440" cy="130" r="40" fill="url(#gc)"/>
<circle cx="610" cy="95" r="45" fill="url(#gc)"/>
<circle cx="700" cy="95" r="50" fill="url(#gc)"/>
<circle cx="860" cy="200" r="55" fill="url(#gc)"/>
<circle cx="830" cy="310" r="75" fill="url(#gc)"/>
<circle cx="160" cy="340" r="60" fill="url(#gc)"/>
<circle cx="380" cy="300" r="55" fill="url(#gc)"/>
<circle cx="620" cy="360" r="75" fill="url(#gc)"/>
<circle cx="120" cy="460" r="80" fill="url(#gc)"/>
<circle cx="410" cy="530" r="55" fill="url(#gc)"/>
<circle cx="545" cy="450" r="45" fill="url(#gc)"/>
<circle cx="150" cy="720" r="60" fill="url(#gc)"/>
<circle cx="380" cy="640" r="50" fill="url(#gc)"/>
<circle cx="620" cy="740" r="80" fill="url(#gc)"/>
<circle cx="830" cy="680" r="75" fill="url(#gc)"/>
<circle cx="120" cy="835" r="85" fill="url(#gc)"/>
<circle cx="870" cy="560" r="50" fill="url(#gc)"/>
<circle cx="240" cy="900" r="50" fill="url(#gc)"/>
<circle cx="400" cy="900" r="50" fill="url(#gc)"/>
<circle cx="480" cy="920" r="55" fill="url(#gc)"/>
<circle cx="560" cy="900" r="50" fill="url(#gc)"/>
<circle cx="740" cy="790" r="50" fill="url(#gc)"/>
<circle cx="870" cy="950" r="55" fill="url(#gc)"/>
<circle cx="600" cy="270" r="40" fill="url(#gc)"/>
<circle cx="280" cy="420" r="40" fill="url(#gc)"/>
<circle cx="520" cy="780" r="50" fill="url(#gc)"/>
<circle cx="480" cy="300" r="40" fill="url(#gr)"/>
<circle cx="710" cy="240" r="35" fill="url(#gr)"/>
<circle cx="340" cy="600" r="30" fill="url(#gr)"/>
<circle cx="480" cy="490" r="30" fill="url(#gr)"/>
<circle cx="710" cy="605" r="35" fill="url(#gr)"/>
<circle cx="710" cy="980" r="35" fill="url(#gr)"/>
<circle cx="255" cy="215" r="70" fill="url(#gy)"/>
<circle cx="535" cy="210" r="65" fill="url(#gy)"/>
<circle cx="255" cy="590" r="70" fill="url(#gy)"/>
<circle cx="545" cy="560" r="65" fill="url(#gy)"/>
<circle cx="140" cy="190" r="53" fill="url(#gr)"/>
<circle cx="305" cy="145" r="55.12" fill="url(#gr)"/>
<circle cx="270" cy="320" r="53" fill="url(#gr)"/>
<circle cx="520" cy="100" r="53" fill="url(#gr)"/>
<circle cx="490" cy="240" r="53" fill="url(#gr)"/>
<circle cx="650" cy="230" r="50.88" fill="url(#gr)"/>
<circle cx="755" cy="150" r="80" fill="url(#gt)"/>
<circle cx="400" cy="400" r="82" fill="url(#gt)"/>
<circle cx="300" cy="505" r="55.12" fill="url(#gr)"/>
<circle cx="140" cy="570" r="53" fill="url(#gr)"/>
<circle cx="270" cy="690" r="53" fill="url(#gr)"/>
<circle cx="555" cy="490" r="55.12" fill="url(#gr)"/>
<circle cx="475" cy="640" r="55.12" fill="url(#gr)"/>
<circle cx="650" cy="600" r="53" fill="url(#gr)"/>
<circle cx="870" cy="420" r="47.7" fill="url(#gr)"/>
<circle cx="740" cy="520" r="75" fill="url(#gt)"/>
<circle cx="810" cy="460" r="40" fill="url(#gg)"/>
<circle cx="740" cy="420" r="33" fill="url(#gw)"/>
<circle cx="860" cy="405" r="33" fill="url(#gw)"/>
<circle cx="760" cy="475" r="35.2" fill="url(#gw)"/>
<circle cx="830" cy="540" r="35.2" fill="url(#gw)"/>
<circle cx="400" cy="765" r="82" fill="url(#gt)"/>
<circle cx="760" cy="880" r="80" fill="url(#gt)"/>
<circle cx="530" cy="845" r="55.12" fill="url(#gr)"/>
<circle cx="310" cy="885" r="55.12" fill="url(#gr)"/>
<circle cx="860" cy="795" r="55.12" fill="url(#gr)"/>
<circle cx="650" cy="970" r="55.12" fill="url(#gr)"/>
</g>
<g transform="translate(860,45) scale(0.24166)">
<circle cx="200" cy="150" r="50" fill="url(#gc2)"/>
<circle cx="310" cy="150" r="50" fill="url(#gc2)"/>
<circle cx="420" cy="150" r="50" fill="url(#gc2)"/>
<circle cx="530" cy="150" r="50" fill="url(#gc2)"/>
<circle cx="640" cy="150" r="50" fill="url(#gc2)"/>
<circle cx="750" cy="150" r="50" fill="url(#gc2)"/>
<circle cx="200" cy="260" r="50" fill="url(#gc2)"/>
<circle cx="310" cy="260" r="50" fill="url(#gc2)"/>
<circle cx="420" cy="260" r="50" fill="url(#gc2)"/>
<circle cx="530" cy="260" r="50" fill="url(#gc2)"/>
<circle cx="640" cy="260" r="50" fill="url(#gc2)"/>
<circle cx="750" cy="260" r="50" fill="url(#gc2)"/>
<circle cx="200" cy="370" r="50" fill="url(#gc2)"/>
<circle cx="310" cy="370" r="50" fill="url(#gc2)"/>
<circle cx="420" cy="370" r="50" fill="url(#gc2)"/>
<circle cx="530" cy="370" r="50" fill="url(#gc2)"/>
<circle cx="640" cy="370" r="50" fill="url(#gc2)"/>
<circle cx="750" cy="370" r="50" fill="url(#gc2)"/>
<circle cx="200" cy="480" r="50" fill="url(#gc2)"/>
<circle cx="310" cy="480" r="50" fill="url(#gc2)"/>
<circle cx="420" cy="480" r="50" fill="url(#gc2)"/>
<circle cx="530" cy="480" r="50" fill="url(#gc2)"/>
<circle cx="640" cy="480" r="50" fill="url(#gc2)"/>
<circle cx="750" cy="480" r="50" fill="url(#gc2)"/>
<circle cx="200" cy="590" r="50" fill="url(#gc2)"/>
<circle cx="310" cy="590" r="50" fill="url(#gc2)"/>
<circle cx="420" cy="590" r="50" fill="url(#gc2)"/>
<circle cx="530" cy="590" r="50" fill="url(#gc2)"/>
<circle cx="640" cy="590" r="50" fill="url(#gc2)"/>
<circle cx="750" cy="590" r="50" fill="url(#gc2)"/>
<circle cx="200" cy="700" r="50" fill="url(#gc2)"/>
<circle cx="310" cy="700" r="50" fill="url(#gc2)"/>
<circle cx="420" cy="700" r="50" fill="url(#gc2)"/>
<circle cx="530" cy="700" r="50" fill="url(#gc2)"/>
<circle cx="640" cy="700" r="50" fill="url(#gc2)"/>
<circle cx="750" cy="700" r="50" fill="url(#gc2)"/>
<circle cx="200" cy="810" r="50" fill="url(#gc2)"/>
<circle cx="310" cy="810" r="50" fill="url(#gc2)"/>
<circle cx="420" cy="810" r="50" fill="url(#gc2)"/>
<circle cx="530" cy="810" r="50" fill="url(#gc2)"/>
<circle cx="640" cy="810" r="50" fill="url(#gc2)"/>
<circle cx="750" cy="810" r="50" fill="url(#gc2)"/>
<circle cx="200" cy="910" r="50" fill="url(#gc2)"/>
<circle cx="310" cy="910" r="50" fill="url(#gc2)"/>
<circle cx="420" cy="910" r="50" fill="url(#gc2)"/>
<circle cx="530" cy="910" r="50" fill="url(#gc2)"/>
<circle cx="640" cy="910" r="50" fill="url(#gc2)"/>
<circle cx="750" cy="910" r="50" fill="url(#gc2)"/>
<circle cx="110" cy="90" r="75" fill="url(#gc)"/>
<circle cx="350" cy="155" r="45" fill="url(#gc)"/>
<circle cx="430" cy="120" r="40" fill="url(#gc)"/>
<circle cx="550" cy="105" r="45" fill="url(#gc)"/>
<circle cx="660" cy="100" r="45" fill="url(#gc)"/>
<circle cx="805" cy="215" r="50" fill="url(#gc)"/>
<circle cx="780" cy="315" r="75" fill="url(#gc)"/>
<circle cx="140" cy="335" r="55" fill="url(#gc)"/>
<circle cx="350" cy="285" r="50" fill="url(#gc)"/>
<circle cx="570" cy="360" r="70" fill="url(#gc)"/>
<circle cx="110" cy="445" r="75" fill="url(#gc)"/>
<circle cx="365" cy="510" r="50" fill="url(#gc)"/>
<circle cx="550" cy="460" r="40" fill="url(#gc)"/>
<circle cx="130" cy="690" r="52" fill="url(#gc)"/>
<circle cx="340" cy="625" r="45" fill="url(#gc)"/>
<circle cx="575" cy="710" r="75" fill="url(#gc)"/>
<circle cx="775" cy="665" r="75" fill="url(#gc)"/>
<circle cx="110" cy="800" r="75" fill="url(#gc)"/>
<circle cx="805" cy="555" r="50" fill="url(#gc)"/>
<circle cx="220" cy="880" r="50" fill="url(#gc)"/>
<circle cx="400" cy="890" r="60" fill="url(#gc)"/>
<circle cx="540" cy="880" r="50" fill="url(#gc)"/>
<circle cx="690" cy="770" r="50" fill="url(#gc)"/>
<circle cx="800" cy="915" r="50" fill="url(#gc)"/>
<circle cx="260" cy="760" r="40" fill="url(#gc)"/>
<circle cx="470" cy="690" r="45" fill="url(#gc)"/>
<circle cx="280" cy="430" r="40" fill="url(#gc)"/>
<circle cx="660" cy="260" r="35" fill="url(#gr)"/>
<circle cx="310" cy="590" r="30" fill="url(#gr)"/>
<circle cx="660" cy="585" r="35" fill="url(#gr)"/>
<circle cx="650" cy="960" r="35" fill="url(#gr)"/>
<circle cx="235" cy="220" r="70" fill="url(#gy)"/>
<circle cx="490" cy="240" r="65" fill="url(#gy)"/>
<circle cx="235" cy="580" r="70" fill="url(#gy)"/>
<circle cx="495" cy="560" r="62" fill="url(#gy)"/>
<circle cx="125" cy="200" r="53" fill="url(#gr)"/>
<circle cx="280" cy="170" r="53" fill="url(#gr)"/>
<circle cx="240" cy="330" r="53" fill="url(#gr)"/>
<circle cx="470" cy="140" r="53" fill="url(#gr)"/>
<circle cx="460" cy="300" r="53" fill="url(#gr)"/>
<circle cx="600" cy="255" r="53" fill="url(#gr)"/>
<circle cx="695" cy="175" r="78" fill="url(#gt)"/>
<circle cx="360" cy="400" r="78" fill="url(#gt)"/>
<circle cx="480" cy="410" r="33" fill="url(#gw)"/>
<circle cx="275" cy="505" r="53" fill="url(#gr)"/>
<circle cx="125" cy="565" r="53" fill="url(#gr)"/>
<circle cx="240" cy="680" r="53" fill="url(#gr)"/>
<circle cx="485" cy="485" r="55.12" fill="url(#gr)"/>
<circle cx="435" cy="630" r="53" fill="url(#gr)"/>
<circle cx="600" cy="590" r="53" fill="url(#gr)"/>
<circle cx="810" cy="425" r="47.7" fill="url(#gr)"/>
<circle cx="690" cy="520" r="75" fill="url(#gt)"/>
<circle cx="750" cy="440" r="38" fill="url(#gg)"/>
<circle cx="690" cy="395" r="33" fill="url(#gw)"/>
<circle cx="800" cy="400" r="33" fill="url(#gw)"/>
<circle cx="695" cy="460" r="35.2" fill="url(#gw)"/>
<circle cx="760" cy="520" r="35.2" fill="url(#gw)"/>
<circle cx="355" cy="755" r="78" fill="url(#gt)"/>
<circle cx="690" cy="870" r="78" fill="url(#gt)"/>
<circle cx="465" cy="835" r="53" fill="url(#gr)"/>
<circle cx="270" cy="865" r="53" fill="url(#gr)"/>
<circle cx="795" cy="780" r="53" fill="url(#gr)"/>
<circle cx="590" cy="955" r="55.12" fill="url(#gr)"/>
</g>
<g transform="translate(1075,45) scale(0.24160)">
<circle cx="200" cy="150" r="50" fill="url(#gc2)"/>
<circle cx="310" cy="150" r="50" fill="url(#gc2)"/>
<circle cx="420" cy="150" r="50" fill="url(#gc2)"/>
<circle cx="530" cy="150" r="50" fill="url(#gc2)"/>
<circle cx="640" cy="150" r="50" fill="url(#gc2)"/>
<circle cx="750" cy="150" r="50" fill="url(#gc2)"/>
<circle cx="200" cy="260" r="50" fill="url(#gc2)"/>
<circle cx="310" cy="260" r="50" fill="url(#gc2)"/>
<circle cx="420" cy="260" r="50" fill="url(#gc2)"/>
<circle cx="530" cy="260" r="50" fill="url(#gc2)"/>
<circle cx="640" cy="260" r="50" fill="url(#gc2)"/>
<circle cx="750" cy="260" r="50" fill="url(#gc2)"/>
<circle cx="200" cy="370" r="50" fill="url(#gc2)"/>
<circle cx="310" cy="370" r="50" fill="url(#gc2)"/>
<circle cx="420" cy="370" r="50" fill="url(#gc2)"/>
<circle cx="530" cy="370" r="50" fill="url(#gc2)"/>
<circle cx="640" cy="370" r="50" fill="url(#gc2)"/>
<circle cx="750" cy="370" r="50" fill="url(#gc2)"/>
<circle cx="200" cy="480" r="50" fill="url(#gc2)"/>
<circle cx="310" cy="480" r="50" fill="url(#gc2)"/>
<circle cx="420" cy="480" r="50" fill="url(#gc2)"/>
<circle cx="530" cy="480" r="50" fill="url(#gc2)"/>
<circle cx="640" cy="480" r="50" fill="url(#gc2)"/>
<circle cx="750" cy="480" r="50" fill="url(#gc2)"/>
<circle cx="200" cy="590" r="50" fill="url(#gc2)"/>
<circle cx="310" cy="590" r="50" fill="url(#gc2)"/>
<circle cx="420" cy="590" r="50" fill="url(#gc2)"/>
<circle cx="530" cy="590" r="50" fill="url(#gc2)"/>
<circle cx="640" cy="590" r="50" fill="url(#gc2)"/>
<circle cx="750" cy="590" r="50" fill="url(#gc2)"/>
<circle cx="200" cy="700" r="50" fill="url(#gc2)"/>
<circle cx="310" cy="700" r="50" fill="url(#gc2)"/>
<circle cx="420" cy="700" r="50" fill="url(#gc2)"/>
<circle cx="530" cy="700" r="50" fill="url(#gc2)"/>
<circle cx="640" cy="700" r="50" fill="url(#gc2)"/>
<circle cx="750" cy="700" r="50" fill="url(#gc2)"/>
<circle cx="200" cy="810" r="50" fill="url(#gc2)"/>
<circle cx="310" cy="810" r="50" fill="url(#gc2)"/>
<circle cx="420" cy="810" r="50" fill="url(#gc2)"/>
<circle cx="530" cy="810" r="50" fill="url(#gc2)"/>
<circle cx="640" cy="810" r="50" fill="url(#gc2)"/>
<circle cx="750" cy="810" r="50" fill="url(#gc2)"/>
<circle cx="200" cy="910" r="50" fill="url(#gc2)"/>
<circle cx="310" cy="910" r="50" fill="url(#gc2)"/>
<circle cx="420" cy="910" r="50" fill="url(#gc2)"/>
<circle cx="530" cy="910" r="50" fill="url(#gc2)"/>
<circle cx="640" cy="910" r="50" fill="url(#gc2)"/>
<circle cx="750" cy="910" r="50" fill="url(#gc2)"/>
<circle cx="125" cy="85" r="78" fill="url(#gc)"/>
<circle cx="380" cy="150" r="45" fill="url(#gc)"/>
<circle cx="440" cy="110" r="45" fill="url(#gc)"/>
<circle cx="560" cy="100" r="45" fill="url(#gc)"/>
<circle cx="660" cy="100" r="50" fill="url(#gc)"/>
<circle cx="840" cy="200" r="50" fill="url(#gc)"/>
<circle cx="800" cy="305" r="75" fill="url(#gc)"/>
<circle cx="165" cy="330" r="55" fill="url(#gc)"/>
<circle cx="370" cy="275" r="50" fill="url(#gc)"/>
<circle cx="600" cy="360" r="75" fill="url(#gc)"/>
<circle cx="125" cy="440" r="78" fill="url(#gc)"/>
<circle cx="400" cy="510" r="55" fill="url(#gc)"/>
<circle cx="560" cy="450" r="40" fill="url(#gc)"/>
<circle cx="165" cy="690" r="52" fill="url(#gc)"/>
<circle cx="370" cy="630" r="45" fill="url(#gc)"/>
<circle cx="605" cy="705" r="78" fill="url(#gc)"/>
<circle cx="805" cy="650" r="75" fill="url(#gc)"/>
<circle cx="130" cy="800" r="78" fill="url(#gc)"/>
<circle cx="840" cy="545" r="50" fill="url(#gc)"/>
<circle cx="240" cy="880" r="50" fill="url(#gc)"/>
<circle cx="440" cy="880" r="60" fill="url(#gc)"/>
<circle cx="560" cy="890" r="50" fill="url(#gc)"/>
<circle cx="720" cy="770" r="50" fill="url(#gc)"/>
<circle cx="840" cy="905" r="52" fill="url(#gc)"/>
<circle cx="290" cy="760" r="40" fill="url(#gc)"/>
<circle cx="500" cy="700" r="45" fill="url(#gc)"/>
<circle cx="290" cy="420" r="40" fill="url(#gc)"/>
<circle cx="690" cy="245" r="35" fill="url(#gr)"/>
<circle cx="340" cy="580" r="30" fill="url(#gr)"/>
<circle cx="480" cy="470" r="30" fill="url(#gr)"/>
<circle cx="690" cy="580" r="35" fill="url(#gr)"/>
<circle cx="695" cy="955" r="35" fill="url(#gr)"/>
<circle cx="260" cy="210" r="70" fill="url(#gy)"/>
<circle cx="525" cy="220" r="65" fill="url(#gy)"/>
<circle cx="265" cy="565" r="72" fill="url(#gy)"/>
<circle cx="535" cy="540" r="65" fill="url(#gy)"/>
<circle cx="150" cy="190" r="53" fill="url(#gr)"/>
<circle cx="305" cy="155" r="55.12" fill="url(#gr)"/>
<circle cx="270" cy="320" r="53" fill="url(#gr)"/>
<circle cx="505" cy="120" r="53" fill="url(#gr)"/>
<circle cx="490" cy="280" r="53" fill="url(#gr)"/>
<circle cx="640" cy="240" r="53" fill="url(#gr)"/>
<circle cx="730" cy="155" r="80" fill="url(#gt)"/>
<circle cx="395" cy="390" r="80" fill="url(#gt)"/>
<circle cx="515" cy="350" r="35.2" fill="url(#gw)"/>
<circle cx="305" cy="500" r="55.12" fill="url(#gr)"/>
<circle cx="150" cy="555" r="53" fill="url(#gr)"/>
<circle cx="270" cy="670" r="53" fill="url(#gr)"/>
<circle cx="535" cy="465" r="55.12" fill="url(#gr)"/>
<circle cx="470" cy="620" r="53" fill="url(#gr)"/>
<circle cx="630" cy="580" r="53" fill="url(#gr)"/>
<circle cx="830" cy="405" r="50.88" fill="url(#gr)"/>
<circle cx="720" cy="500" r="75" fill="url(#gt)"/>
<circle cx="790" cy="455" r="40" fill="url(#gg)"/>
<circle cx="720" cy="400" r="33" fill="url(#gw)"/>
<circle cx="835" cy="400" r="33" fill="url(#gw)"/>
<circle cx="730" cy="475" r="35.2" fill="url(#gw)"/>
<circle cx="815" cy="530" r="35.2" fill="url(#gw)"/>
<circle cx="395" cy="740" r="80" fill="url(#gt)"/>
<circle cx="735" cy="855" r="80" fill="url(#gt)"/>
<circle cx="505" cy="825" r="53" fill="url(#gr)"/>
<circle cx="305" cy="860" r="53" fill="url(#gr)"/>
<circle cx="835" cy="765" r="53" fill="url(#gr)"/>
<circle cx="635" cy="950" r="55.12" fill="url(#gr)"/>
</g>
<g transform="translate(110,730) scale(0.25113)">
<circle cx="200" cy="150" r="50" fill="url(#gc2)"/>
<circle cx="310" cy="150" r="50" fill="url(#gc2)"/>
<circle cx="420" cy="150" r="50" fill="url(#gc2)"/>
<circle cx="530" cy="150" r="50" fill="url(#gc2)"/>
<circle cx="640" cy="150" r="50" fill="url(#gc2)"/>
<circle cx="750" cy="150" r="50" fill="url(#gc2)"/>
<circle cx="200" cy="260" r="50" fill="url(#gc2)"/>
<circle cx="310" cy="260" r="50" fill="url(#gc2)"/>
<circle cx="420" cy="260" r="50" fill="url(#gc2)"/>
<circle cx="530" cy="260" r="50" fill="url(#gc2)"/>
<circle cx="640" cy="260" r="50" fill="url(#gc2)"/>
<circle cx="750" cy="260" r="50" fill="url(#gc2)"/>
<circle cx="200" cy="370" r="50" fill="url(#gc2)"/>
<circle cx="310" cy="370" r="50" fill="url(#gc2)"/>
<circle cx="420" cy="370" r="50" fill="url(#gc2)"/>
<circle cx="530" cy="370" r="50" fill="url(#gc2)"/>
<circle cx="640" cy="370" r="50" fill="url(#gc2)"/>
<circle cx="750" cy="370" r="50" fill="url(#gc2)"/>
<circle cx="200" cy="480" r="50" fill="url(#gc2)"/>
<circle cx="310" cy="480" r="50" fill="url(#gc2)"/>
<circle cx="420" cy="480" r="50" fill="url(#gc2)"/>
<circle cx="530" cy="480" r="50" fill="url(#gc2)"/>
<circle cx="640" cy="480" r="50" fill="url(#gc2)"/>
<circle cx="750" cy="480" r="50" fill="url(#gc2)"/>
<circle cx="200" cy="590" r="50" fill="url(#gc2)"/>
<circle cx="310" cy="590" r="50" fill="url(#gc2)"/>
<circle cx="420" cy="590" r="50" fill="url(#gc2)"/>
<circle cx="530" cy="590" r="50" fill="url(#gc2)"/>
<circle cx="640" cy="590" r="50" fill="url(#gc2)"/>
<circle cx="750" cy="590" r="50" fill="url(#gc2)"/>
<circle cx="200" cy="700" r="50" fill="url(#gc2)"/>
<circle cx="310" cy="700" r="50" fill="url(#gc2)"/>
<circle cx="420" cy="700" r="50" fill="url(#gc2)"/>
<circle cx="530" cy="700" r="50" fill="url(#gc2)"/>
<circle cx="640" cy="700" r="50" fill="url(#gc2)"/>
<circle cx="750" cy="700" r="50" fill="url(#gc2)"/>
<circle cx="200" cy="810" r="50" fill="url(#gc2)"/>
<circle cx="310" cy="810" r="50" fill="url(#gc2)"/>
<circle cx="420" cy="810" r="50" fill="url(#gc2)"/>
<circle cx="530" cy="810" r="50" fill="url(#gc2)"/>
<circle cx="640" cy="810" r="50" fill="url(#gc2)"/>
<circle cx="750" cy="810" r="50" fill="url(#gc2)"/>
<circle cx="200" cy="910" r="50" fill="url(#gc2)"/>
<circle cx="310" cy="910" r="50" fill="url(#gc2)"/>
<circle cx="420" cy="910" r="50" fill="url(#gc2)"/>
<circle cx="530" cy="910" r="50" fill="url(#gc2)"/>
<circle cx="640" cy="910" r="50" fill="url(#gc2)"/>
<circle cx="750" cy="910" r="50" fill="url(#gc2)"/>
<circle cx="85" cy="105" r="80" fill="url(#gc)"/>
<circle cx="330" cy="185" r="45" fill="url(#gc)"/>
<circle cx="390" cy="120" r="50" fill="url(#gc)"/>
<circle cx="530" cy="130" r="45" fill="url(#gc)"/>
<circle cx="610" cy="140" r="50" fill="url(#gc)"/>
<circle cx="690" cy="110" r="50" fill="url(#gc)"/>
<circle cx="790" cy="255" r="50" fill="url(#gc)"/>
<circle cx="760" cy="345" r="75" fill="url(#gc)"/>
<circle cx="125" cy="360" r="55" fill="url(#gc)"/>
<circle cx="330" cy="300" r="50" fill="url(#gc)"/>
<circle cx="555" cy="395" r="75" fill="url(#gc)"/>
<circle cx="75" cy="470" r="80" fill="url(#gc)"/>
<circle cx="380" cy="560" r="55" fill="url(#gc)"/>
<circle cx="240" cy="440" r="45" fill="url(#gc)"/>
<circle cx="125" cy="720" r="55" fill="url(#gc)"/>
<circle cx="340" cy="660" r="45" fill="url(#gc)"/>
<circle cx="555" cy="750" r="78" fill="url(#gc)"/>
<circle cx="745" cy="700" r="75" fill="url(#gc)"/>
<circle cx="75" cy="830" r="80" fill="url(#gc)"/>
<circle cx="795" cy="600" r="50" fill="url(#gc)"/>
<circle cx="180" cy="920" r="55" fill="url(#gc)"/>
<circle cx="380" cy="920" r="55" fill="url(#gc)"/>
<circle cx="470" cy="900" r="55" fill="url(#gc)"/>
<circle cx="560" cy="880" r="50" fill="url(#gc)"/>
<circle cx="660" cy="800" r="50" fill="url(#gc)"/>
<circle cx="775" cy="955" r="50" fill="url(#gc)"/>
<circle cx="240" cy="800" r="45" fill="url(#gc)"/>
<circle cx="450" cy="740" r="45" fill="url(#gc)"/>
<circle cx="640" cy="440" r="45" fill="url(#gc)"/>
<circle cx="430" cy="340" r="40" fill="url(#gr)"/>
<circle cx="645" cy="285" r="35" fill="url(#gr)"/>
<circle cx="285" cy="615" r="30" fill="url(#gr)"/>
<circle cx="440" cy="520" r="40" fill="url(#gr)"/>
<circle cx="640" cy="650" r="35" fill="url(#gr)"/>
<circle cx="630" cy="990" r="35" fill="url(#gr)"/>
<circle cx="210" cy="250" r="68" fill="url(#gy)"/>
<circle cx="490" cy="255" r="65" fill="url(#gy)"/>
<circle cx="210" cy="610" r="68" fill="url(#gy)"/>
<circle cx="490" cy="600" r="65" fill="url(#gy)"/>
<circle cx="110" cy="230" r="53" fill="url(#gr)"/>
<circle cx="265" cy="190" r="55.12" fill="url(#gr)"/>
<circle cx="225" cy="355" r="53" fill="url(#gr)"/>
<circle cx="475" cy="150" r="53" fill="url(#gr)"/>
<circle cx="445" cy="300" r="53" fill="url(#gr)"/>
<circle cx="590" cy="280" r="53" fill="url(#gr)"/>
<circle cx="685" cy="205" r="80" fill="url(#gt)"/>
<circle cx="350" cy="435" r="80" fill="url(#gt)"/>
<circle cx="255" cy="535" r="55.12" fill="url(#gr)"/>
<circle cx="100" cy="590" r="53" fill="url(#gr)"/>
<circle cx="215" cy="705" r="53" fill="url(#gr)"/>
<circle cx="525" cy="540" r="55.12" fill="url(#gr)"/>
<circle cx="415" cy="665" r="55.12" fill="url(#gr)"/>
<circle cx="575" cy="655" r="53" fill="url(#gr)"/>
<circle cx="790" cy="460" r="50.88" fill="url(#gr)"/>
<circle cx="670" cy="575" r="75" fill="url(#gt)"/>
<circle cx="730" cy="510" r="40" fill="url(#gg)"/>
<circle cx="740" cy="440" r="35.2" fill="url(#gw)"/>
<circle cx="620" cy="530" r="35.2" fill="url(#gw)"/>
<circle cx="690" cy="540" r="35.2" fill="url(#gw)"/>
<circle cx="775" cy="575" r="35.2" fill="url(#gw)"/>
<circle cx="340" cy="780" r="80" fill="url(#gt)"/>
<circle cx="665" cy="905" r="80" fill="url(#gt)"/>
<circle cx="455" cy="860" r="53" fill="url(#gr)"/>
<circle cx="250" cy="895" r="53" fill="url(#gr)"/>
<circle cx="770" cy="820" r="53" fill="url(#gr)"/>
<circle cx="570" cy="985" r="55.12" fill="url(#gr)"/>
</g>
<g transform="translate(330,730) scale(0.25107)">
<circle cx="200" cy="150" r="50" fill="url(#gc2)"/>
<circle cx="310" cy="150" r="50" fill="url(#gc2)"/>
<circle cx="420" cy="150" r="50" fill="url(#gc2)"/>
<circle cx="530" cy="150" r="50" fill="url(#gc2)"/>
<circle cx="640" cy="150" r="50" fill="url(#gc2)"/>
<circle cx="750" cy="150" r="50" fill="url(#gc2)"/>
<circle cx="200" cy="260" r="50" fill="url(#gc2)"/>
<circle cx="310" cy="260" r="50" fill="url(#gc2)"/>
<circle cx="420" cy="260" r="50" fill="url(#gc2)"/>
<circle cx="530" cy="260" r="50" fill="url(#gc2)"/>
<circle cx="640" cy="260" r="50" fill="url(#gc2)"/>
<circle cx="750" cy="260" r="50" fill="url(#gc2)"/>
<circle cx="200" cy="370" r="50" fill="url(#gc2)"/>
<circle cx="310" cy="370" r="50" fill="url(#gc2)"/>
<circle cx="420" cy="370" r="50" fill="url(#gc2)"/>
<circle cx="530" cy="370" r="50" fill="url(#gc2)"/>
<circle cx="640" cy="370" r="50" fill="url(#gc2)"/>
<circle cx="750" cy="370" r="50" fill="url(#gc2)"/>
<circle cx="200" cy="480" r="50" fill="url(#gc2)"/>
<circle cx="310" cy="480" r="50" fill="url(#gc2)"/>
<circle cx="420" cy="480" r="50" fill="url(#gc2)"/>
<circle cx="530" cy="480" r="50" fill="url(#gc2)"/>
<circle cx="640" cy="480" r="50" fill="url(#gc2)"/>
<circle cx="750" cy="480" r="50" fill="url(#gc2)"/>
<circle cx="200" cy="590" r="50" fill="url(#gc2)"/>
<circle cx="310" cy="590" r="50" fill="url(#gc2)"/>
<circle cx="420" cy="590" r="50" fill="url(#gc2)"/>
<circle cx="530" cy="590" r="50" fill="url(#gc2)"/>
<circle cx="640" cy="590" r="50" fill="url(#gc2)"/>
<circle cx="750" cy="590" r="50" fill="url(#gc2)"/>
<circle cx="200" cy="700" r="50" fill="url(#gc2)"/>
<circle cx="310" cy="700" r="50" fill="url(#gc2)"/>
<circle cx="420" cy="700" r="50" fill="url(#gc2)"/>
<circle cx="530" cy="700" r="50" fill="url(#gc2)"/>
<circle cx="640" cy="700" r="50" fill="url(#gc2)"/>
<circle cx="750" cy="700" r="50" fill="url(#gc2)"/>
<circle cx="200" cy="810" r="50" fill="url(#gc2)"/>
<circle cx="310" cy="810" r="50" fill="url(#gc2)"/>
<circle cx="420" cy="810" r="50" fill="url(#gc2)"/>
<circle cx="530" cy="810" r="50" fill="url(#gc2)"/>
<circle cx="640" cy="810" r="50" fill="url(#gc2)"/>
<circle cx="750" cy="810" r="50" fill="url(#gc2)"/>
<circle cx="200" cy="910" r="50" fill="url(#gc2)"/>
<circle cx="310" cy="910" r="50" fill="url(#gc2)"/>
<circle cx="420" cy="910" r="50" fill="url(#gc2)"/>
<circle cx="530" cy="910" r="50" fill="url(#gc2)"/>
<circle cx="640" cy="910" r="50" fill="url(#gc2)"/>
<circle cx="750" cy="910" r="50" fill="url(#gc2)"/>
<circle cx="110" cy="100" r="78" fill="url(#gc)"/>
<circle cx="340" cy="160" r="45" fill="url(#gc)"/>
<circle cx="470" cy="90" r="45" fill="url(#gc)"/>
<circle cx="540" cy="140" r="40" fill="url(#gc)"/>
<circle cx="800" cy="165" r="50" fill="url(#gc)"/>
<circle cx="800" cy="270" r="75" fill="url(#gc)"/>
<circle cx="145" cy="355" r="55" fill="url(#gc)"/>
<circle cx="360" cy="290" r="50" fill="url(#gc)"/>
<circle cx="580" cy="340" r="75" fill="url(#gc)"/>
<circle cx="140" cy="460" r="80" fill="url(#gc)"/>
<circle cx="370" cy="530" r="50" fill="url(#gc)"/>
<circle cx="600" cy="440" r="45" fill="url(#gc)"/>
<circle cx="170" cy="710" r="55" fill="url(#gc)"/>
<circle cx="380" cy="640" r="45" fill="url(#gc)"/>
<circle cx="615" cy="690" r="78" fill="url(#gc)"/>
<circle cx="830" cy="620" r="75" fill="url(#gc)"/>
<circle cx="165" cy="820" r="80" fill="url(#gc)"/>
<circle cx="830" cy="520" r="50" fill="url(#gc)"/>
<circle cx="320" cy="870" r="55" fill="url(#gc)"/>
<circle cx="400" cy="880" r="55" fill="url(#gc)"/>
<circle cx="510" cy="880" r="60" fill="url(#gc)"/>
<circle cx="600" cy="810" r="50" fill="url(#gc)"/>
<circle cx="730" cy="730" r="50" fill="url(#gc)"/>
<circle cx="860" cy="870" r="55" fill="url(#gc)"/>
<circle cx="270" cy="800" r="45" fill="url(#gc)"/>
<circle cx="500" cy="710" r="50" fill="url(#gc)"/>
<circle cx="280" cy="430" r="40" fill="url(#gc)"/>
<circle cx="700" cy="590" r="45" fill="url(#gc)"/>
<circle cx="650" cy="230" r="35" fill="url(#gr)"/>
<circle cx="330" cy="590" r="30" fill="url(#gr)"/>
<circle cx="670" cy="570" r="35" fill="url(#gr)"/>
<circle cx="710" cy="930" r="35" fill="url(#gr)"/>
<circle cx="225" cy="230" r="68" fill="url(#gy)"/>
<circle cx="475" cy="230" r="65" fill="url(#gy)"/>
<circle cx="255" cy="590" r="70" fill="url(#gy)"/>
<circle cx="505" cy="545" r="65" fill="url(#gy)"/>
<circle cx="115" cy="220" r="53" fill="url(#gr)"/>
<circle cx="260" cy="180" r="55.12" fill="url(#gr)"/>
<circle cx="240" cy="340" r="53" fill="url(#gr)"/>
<circle cx="450" cy="120" r="53" fill="url(#gr)"/>
<circle cx="445" cy="285" r="53" fill="url(#gr)"/>
<circle cx="590" cy="230" r="53" fill="url(#gr)"/>
<circle cx="680" cy="135" r="78" fill="url(#gt)"/>
<circle cx="365" cy="395" r="78" fill="url(#gt)"/>
<circle cx="475" cy="400" r="35.2" fill="url(#gw)"/>
<circle cx="285" cy="515" r="55.12" fill="url(#gr)"/>
<circle cx="140" cy="585" r="53" fill="url(#gr)"/>
<circle cx="265" cy="690" r="53" fill="url(#gr)"/>
<circle cx="490" cy="470" r="55.12" fill="url(#gr)"/>
<circle cx="440" cy="620" r="53" fill="url(#gr)"/>
<circle cx="610" cy="570" r="53" fill="url(#gr)"/>
<circle cx="810" cy="360" r="50.88" fill="url(#gr)"/>
<circle cx="710" cy="480" r="75" fill="url(#gt)"/>
<circle cx="740" cy="430" r="40" fill="url(#gg)"/>
<circle cx="700" cy="360" r="35.2" fill="url(#gw)"/>
<circle cx="815" cy="420" r="35.2" fill="url(#gw)"/>
<circle cx="710" cy="490" r="35.2" fill="url(#gw)"/>
<circle cx="390" cy="750" r="80" fill="url(#gt)"/>
<circle cx="735" cy="830" r="80" fill="url(#gt)"/>
<circle cx="510" cy="825" r="53" fill="url(#gr)"/>
<circle cx="320" cy="875" r="53" fill="url(#gr)"/>
<circle cx="830" cy="740" r="53" fill="url(#gr)"/>
<circle cx="640" cy="930" r="55.12" fill="url(#gr)"/>
</g>
<g transform="translate(850,730) scale(0.25107)">
<circle cx="200" cy="150" r="50" fill="url(#gc2)"/>
<circle cx="310" cy="150" r="50" fill="url(#gc2)"/>
<circle cx="420" cy="150" r="50" fill="url(#gc2)"/>
<circle cx="530" cy="150" r="50" fill="url(#gc2)"/>
<circle cx="640" cy="150" r="50" fill="url(#gc2)"/>
<circle cx="750" cy="150" r="50" fill="url(#gc2)"/>
<circle cx="200" cy="260" r="50" fill="url(#gc2)"/>
<circle cx="310" cy="260" r="50" fill="url(#gc2)"/>
<circle cx="420" cy="260" r="50" fill="url(#gc2)"/>
<circle cx="530" cy="260" r="50" fill="url(#gc2)"/>
<circle cx="640" cy="260" r="50" fill="url(#gc2)"/>
<circle cx="750" cy="260" r="50" fill="url(#gc2)"/>
<circle cx="200" cy="370" r="50" fill="url(#gc2)"/>
<circle cx="310" cy="370" r="50" fill="url(#gc2)"/>
<circle cx="420" cy="370" r="50" fill="url(#gc2)"/>
<circle cx="530" cy="370" r="50" fill="url(#gc2)"/>
<circle cx="640" cy="370" r="50" fill="url(#gc2)"/>
<circle cx="750" cy="370" r="50" fill="url(#gc2)"/>
<circle cx="200" cy="480" r="50" fill="url(#gc2)"/>
<circle cx="310" cy="480" r="50" fill="url(#gc2)"/>
<circle cx="420" cy="480" r="50" fill="url(#gc2)"/>
<circle cx="530" cy="480" r="50" fill="url(#gc2)"/>
<circle cx="640" cy="480" r="50" fill="url(#gc2)"/>
<circle cx="750" cy="480" r="50" fill="url(#gc2)"/>
<circle cx="200" cy="590" r="50" fill="url(#gc2)"/>
<circle cx="310" cy="590" r="50" fill="url(#gc2)"/>
<circle cx="420" cy="590" r="50" fill="url(#gc2)"/>
<circle cx="530" cy="590" r="50" fill="url(#gc2)"/>
<circle cx="640" cy="590" r="50" fill="url(#gc2)"/>
<circle cx="750" cy="590" r="50" fill="url(#gc2)"/>
<circle cx="200" cy="700" r="50" fill="url(#gc2)"/>
<circle cx="310" cy="700" r="50" fill="url(#gc2)"/>
<circle cx="420" cy="700" r="50" fill="url(#gc2)"/>
<circle cx="530" cy="700" r="50" fill="url(#gc2)"/>
<circle cx="640" cy="700" r="50" fill="url(#gc2)"/>
<circle cx="750" cy="700" r="50" fill="url(#gc2)"/>
<circle cx="200" cy="810" r="50" fill="url(#gc2)"/>
<circle cx="310" cy="810" r="50" fill="url(#gc2)"/>
<circle cx="420" cy="810" r="50" fill="url(#gc2)"/>
<circle cx="530" cy="810" r="50" fill="url(#gc2)"/>
<circle cx="640" cy="810" r="50" fill="url(#gc2)"/>
<circle cx="750" cy="810" r="50" fill="url(#gc2)"/>
<circle cx="200" cy="910" r="50" fill="url(#gc2)"/>
<circle cx="310" cy="910" r="50" fill="url(#gc2)"/>
<circle cx="420" cy="910" r="50" fill="url(#gc2)"/>
<circle cx="530" cy="910" r="50" fill="url(#gc2)"/>
<circle cx="640" cy="910" r="50" fill="url(#gc2)"/>
<circle cx="750" cy="910" r="50" fill="url(#gc2)"/>
<circle cx="135" cy="100" r="75" fill="url(#gc)"/>
<circle cx="360" cy="165" r="45" fill="url(#gc)"/>
<circle cx="440" cy="110" r="40" fill="url(#gc)"/>
<circle cx="560" cy="115" r="45" fill="url(#gc)"/>
<circle cx="680" cy="100" r="50" fill="url(#gc)"/>
<circle cx="800" cy="215" r="50" fill="url(#gc)"/>
<circle cx="780" cy="310" r="75" fill="url(#gc)"/>
<circle cx="150" cy="340" r="55" fill="url(#gc)"/>
<circle cx="360" cy="290" r="50" fill="url(#gc)"/>
<circle cx="580" cy="370" r="70" fill="url(#gc)"/>
<circle cx="130" cy="445" r="75" fill="url(#gc)"/>
<circle cx="360" cy="510" r="50" fill="url(#gc)"/>
<circle cx="560" cy="470" r="40" fill="url(#gc)"/>
<circle cx="150" cy="690" r="52" fill="url(#gc)"/>
<circle cx="360" cy="630" r="45" fill="url(#gc)"/>
<circle cx="580" cy="710" r="75" fill="url(#gc)"/>
<circle cx="780" cy="655" r="75" fill="url(#gc)"/>
<circle cx="130" cy="795" r="75" fill="url(#gc)"/>
<circle cx="810" cy="560" r="45" fill="url(#gc)"/>
<circle cx="250" cy="860" r="50" fill="url(#gc)"/>
<circle cx="420" cy="870" r="60" fill="url(#gc)"/>
<circle cx="540" cy="850" r="50" fill="url(#gc)"/>
<circle cx="700" cy="760" r="50" fill="url(#gc)"/>
<circle cx="800" cy="900" r="50" fill="url(#gc)"/>
<circle cx="290" cy="760" r="40" fill="url(#gc)"/>
<circle cx="490" cy="690" r="45" fill="url(#gc)"/>
<circle cx="280" cy="420" r="40" fill="url(#gc)"/>
<circle cx="660" cy="410" r="45" fill="url(#gc)"/>
<circle cx="655" cy="255" r="35" fill="url(#gr)"/>
<circle cx="320" cy="580" r="30" fill="url(#gr)"/>
<circle cx="450" cy="485" r="35" fill="url(#gr)"/>
<circle cx="655" cy="935" r="35" fill="url(#gr)"/>
<circle cx="235" cy="230" r="68" fill="url(#gy)"/>
<circle cx="490" cy="240" r="65" fill="url(#gy)"/>
<circle cx="235" cy="580" r="68" fill="url(#gy)"/>
<circle cx="495" cy="560" r="62" fill="url(#gy)"/>
<circle cx="125" cy="215" r="53" fill="url(#gr)"/>
<circle cx="275" cy="180" r="53" fill="url(#gr)"/>
<circle cx="245" cy="335" r="53" fill="url(#gr)"/>
<circle cx="465" cy="150" r="53" fill="url(#gr)"/>
<circle cx="455" cy="300" r="53" fill="url(#gr)"/>
<circle cx="600" cy="260" r="53" fill="url(#gr)"/>
<circle cx="690" cy="175" r="78" fill="url(#gt)"/>
<circle cx="360" cy="405" r="78" fill="url(#gt)"/>
<circle cx="490" cy="375" r="33" fill="url(#gw)"/>
<circle cx="275" cy="505" r="53" fill="url(#gr)"/>
<circle cx="130" cy="555" r="53" fill="url(#gr)"/>
<circle cx="240" cy="670" r="53" fill="url(#gr)"/>
<circle cx="530" cy="490" r="53" fill="url(#gr)"/>
<circle cx="425" cy="620" r="53" fill="url(#gr)"/>
<circle cx="580" cy="610" r="50.88" fill="url(#gr)"/>
<circle cx="780" cy="420" r="47.7" fill="url(#gr)"/>
<circle cx="680" cy="530" r="72" fill="url(#gt)"/>
<circle cx="720" cy="490" r="38" fill="url(#gg)"/>
<circle cx="720" cy="420" r="33" fill="url(#gw)"/>
<circle cx="615" cy="490" r="35.2" fill="url(#gw)"/>
<circle cx="685" cy="530" r="35.2" fill="url(#gw)"/>
<circle cx="780" cy="525" r="33" fill="url(#gw)"/>
<circle cx="355" cy="740" r="78" fill="url(#gt)"/>
<circle cx="690" cy="850" r="78" fill="url(#gt)"/>
<circle cx="465" cy="830" r="53" fill="url(#gr)"/>
<circle cx="270" cy="855" r="53" fill="url(#gr)"/>
<circle cx="790" cy="765" r="53" fill="url(#gr)"/>
<circle cx="595" cy="935" r="55.12" fill="url(#gr)"/>
</g>
<g transform="translate(1075,730) scale(0.25107)">
<circle cx="200" cy="150" r="50" fill="url(#gc2)"/>
<circle cx="310" cy="150" r="50" fill="url(#gc2)"/>
<circle cx="420" cy="150" r="50" fill="url(#gc2)"/>
<circle cx="530" cy="150" r="50" fill="url(#gc2)"/>
<circle cx="640" cy="150" r="50" fill="url(#gc2)"/>
<circle cx="750" cy="150" r="50" fill="url(#gc2)"/>
<circle cx="200" cy="260" r="50" fill="url(#gc2)"/>
<circle cx="310" cy="260" r="50" fill="url(#gc2)"/>
<circle cx="420" cy="260" r="50" fill="url(#gc2)"/>
<circle cx="530" cy="260" r="50" fill="url(#gc2)"/>
<circle cx="640" cy="260" r="50" fill="url(#gc2)"/>
<circle cx="750" cy="260" r="50" fill="url(#gc2)"/>
<circle cx="200" cy="370" r="50" fill="url(#gc2)"/>
<circle cx="310" cy="370" r="50" fill="url(#gc2)"/>
<circle cx="420" cy="370" r="50" fill="url(#gc2)"/>
<circle cx="530" cy="370" r="50" fill="url(#gc2)"/>
<circle cx="640" cy="370" r="50" fill="url(#gc2)"/>
<circle cx="750" cy="370" r="50" fill="url(#gc2)"/>
<circle cx="200" cy="480" r="50" fill="url(#gc2)"/>
<circle cx="310" cy="480" r="50" fill="url(#gc2)"/>
<circle cx="420" cy="480" r="50" fill="url(#gc2)"/>
<circle cx="530" cy="480" r="50" fill="url(#gc2)"/>
<circle cx="640" cy="480" r="50" fill="url(#gc2)"/>
<circle cx="750" cy="480" r="50" fill="url(#gc2)"/>
<circle cx="200" cy="590" r="50" fill="url(#gc2)"/>
<circle cx="310" cy="590" r="50" fill="url(#gc2)"/>
<circle cx="420" cy="590" r="50" fill="url(#gc2)"/>
<circle cx="530" cy="590" r="50" fill="url(#gc2)"/>
<circle cx="640" cy="590" r="50" fill="url(#gc2)"/>
<circle cx="750" cy="590" r="50" fill="url(#gc2)"/>
<circle cx="200" cy="700" r="50" fill="url(#gc2)"/>
<circle cx="310" cy="700" r="50" fill="url(#gc2)"/>
<circle cx="420" cy="700" r="50" fill="url(#gc2)"/>
<circle cx="530" cy="700" r="50" fill="url(#gc2)"/>
<circle cx="640" cy="700" r="50" fill="url(#gc2)"/>
<circle cx="750" cy="700" r="50" fill="url(#gc2)"/>
<circle cx="200" cy="810" r="50" fill="url(#gc2)"/>
<circle cx="310" cy="810" r="50" fill="url(#gc2)"/>
<circle cx="420" cy="810" r="50" fill="url(#gc2)"/>
<circle cx="530" cy="810" r="50" fill="url(#gc2)"/>
<circle cx="640" cy="810" r="50" fill="url(#gc2)"/>
<circle cx="750" cy="810" r="50" fill="url(#gc2)"/>
<circle cx="200" cy="910" r="50" fill="url(#gc2)"/>
<circle cx="310" cy="910" r="50" fill="url(#gc2)"/>
<circle cx="420" cy="910" r="50" fill="url(#gc2)"/>
<circle cx="530" cy="910" r="50" fill="url(#gc2)"/>
<circle cx="640" cy="910" r="50" fill="url(#gc2)"/>
<circle cx="750" cy="910" r="50" fill="url(#gc2)"/>
<circle cx="115" cy="90" r="75" fill="url(#gc)"/>
<circle cx="360" cy="150" r="45" fill="url(#gc)"/>
<circle cx="420" cy="100" r="45" fill="url(#gc)"/>
<circle cx="560" cy="90" r="45" fill="url(#gc)"/>
<circle cx="640" cy="100" r="50" fill="url(#gc)"/>
<circle cx="810" cy="205" r="50" fill="url(#gc)"/>
<circle cx="770" cy="295" r="75" fill="url(#gc)"/>
<circle cx="150" cy="320" r="55" fill="url(#gc)"/>
<circle cx="360" cy="270" r="50" fill="url(#gc)"/>
<circle cx="590" cy="340" r="75" fill="url(#gc)"/>
<circle cx="110" cy="425" r="75" fill="url(#gc)"/>
<circle cx="400" cy="510" r="50" fill="url(#gc)"/>
<circle cx="560" cy="440" r="40" fill="url(#gc)"/>
<circle cx="150" cy="680" r="52" fill="url(#gc)"/>
<circle cx="370" cy="620" r="45" fill="url(#gc)"/>
<circle cx="590" cy="690" r="75" fill="url(#gc)"/>
<circle cx="770" cy="640" r="75" fill="url(#gc)"/>
<circle cx="115" cy="780" r="75" fill="url(#gc)"/>
<circle cx="810" cy="535" r="50" fill="url(#gc)"/>
<circle cx="220" cy="850" r="50" fill="url(#gc)"/>
<circle cx="440" cy="870" r="60" fill="url(#gc)"/>
<circle cx="560" cy="900" r="50" fill="url(#gc)"/>
<circle cx="700" cy="720" r="50" fill="url(#gc)"/>
<circle cx="810" cy="880" r="50" fill="url(#gc)"/>
<circle cx="270" cy="740" r="40" fill="url(#gc)"/>
<circle cx="480" cy="690" r="45" fill="url(#gc)"/>
<circle cx="270" cy="400" r="40" fill="url(#gc)"/>
<circle cx="680" cy="380" r="45" fill="url(#gc)"/>
<circle cx="340" cy="900" r="45" fill="url(#gc)"/>
<circle cx="680" cy="230" r="35" fill="url(#gr)"/>
<circle cx="330" cy="555" r="30" fill="url(#gr)"/>
<circle cx="470" cy="450" r="35" fill="url(#gr)"/>
<circle cx="670" cy="560" r="35" fill="url(#gr)"/>
<circle cx="665" cy="910" r="35" fill="url(#gr)"/>
<circle cx="250" cy="200" r="68" fill="url(#gy)"/>
<circle cx="520" cy="210" r="65" fill="url(#gy)"/>
<circle cx="260" cy="550" r="68" fill="url(#gy)"/>
<circle cx="520" cy="530" r="62" fill="url(#gy)"/>
<circle cx="145" cy="185" r="53" fill="url(#gr)"/>
<circle cx="300" cy="145" r="53" fill="url(#gr)"/>
<circle cx="260" cy="305" r="53" fill="url(#gr)"/>
<circle cx="490" cy="105" r="53" fill="url(#gr)"/>
<circle cx="475" cy="250" r="53" fill="url(#gr)"/>
<circle cx="620" cy="230" r="53" fill="url(#gr)"/>
<circle cx="710" cy="145" r="78" fill="url(#gt)"/>
<circle cx="380" cy="375" r="78" fill="url(#gt)"/>
<circle cx="490" cy="320" r="33" fill="url(#gw)"/>
<circle cx="295" cy="480" r="53" fill="url(#gr)"/>
<circle cx="145" cy="530" r="53" fill="url(#gr)"/>
<circle cx="255" cy="645" r="53" fill="url(#gr)"/>
<circle cx="530" cy="450" r="53" fill="url(#gr)"/>
<circle cx="450" cy="590" r="53" fill="url(#gr)"/>
<circle cx="615" cy="565" r="50.88" fill="url(#gr)"/>
<circle cx="805" cy="370" r="47.7" fill="url(#gr)"/>
<circle cx="705" cy="485" r="72" fill="url(#gt)"/>
<circle cx="760" cy="425" r="38" fill="url(#gg)"/>
<circle cx="710" cy="365" r="33" fill="url(#gw)"/>
<circle cx="605" cy="440" r="33" fill="url(#gw)"/>
<circle cx="820" cy="425" r="35.2" fill="url(#gw)"/>
<circle cx="725" cy="490" r="33" fill="url(#gw)"/>
<circle cx="375" cy="710" r="78" fill="url(#gt)"/>
<circle cx="710" cy="820" r="78" fill="url(#gt)"/>
<circle cx="490" cy="790" r="53" fill="url(#gr)"/>
<circle cx="300" cy="830" r="53" fill="url(#gr)"/>
<circle cx="805" cy="740" r="53" fill="url(#gr)"/>
<circle cx="610" cy="905" r="55.12" fill="url(#gr)"/>
</g>
</svg>
</body></html>
